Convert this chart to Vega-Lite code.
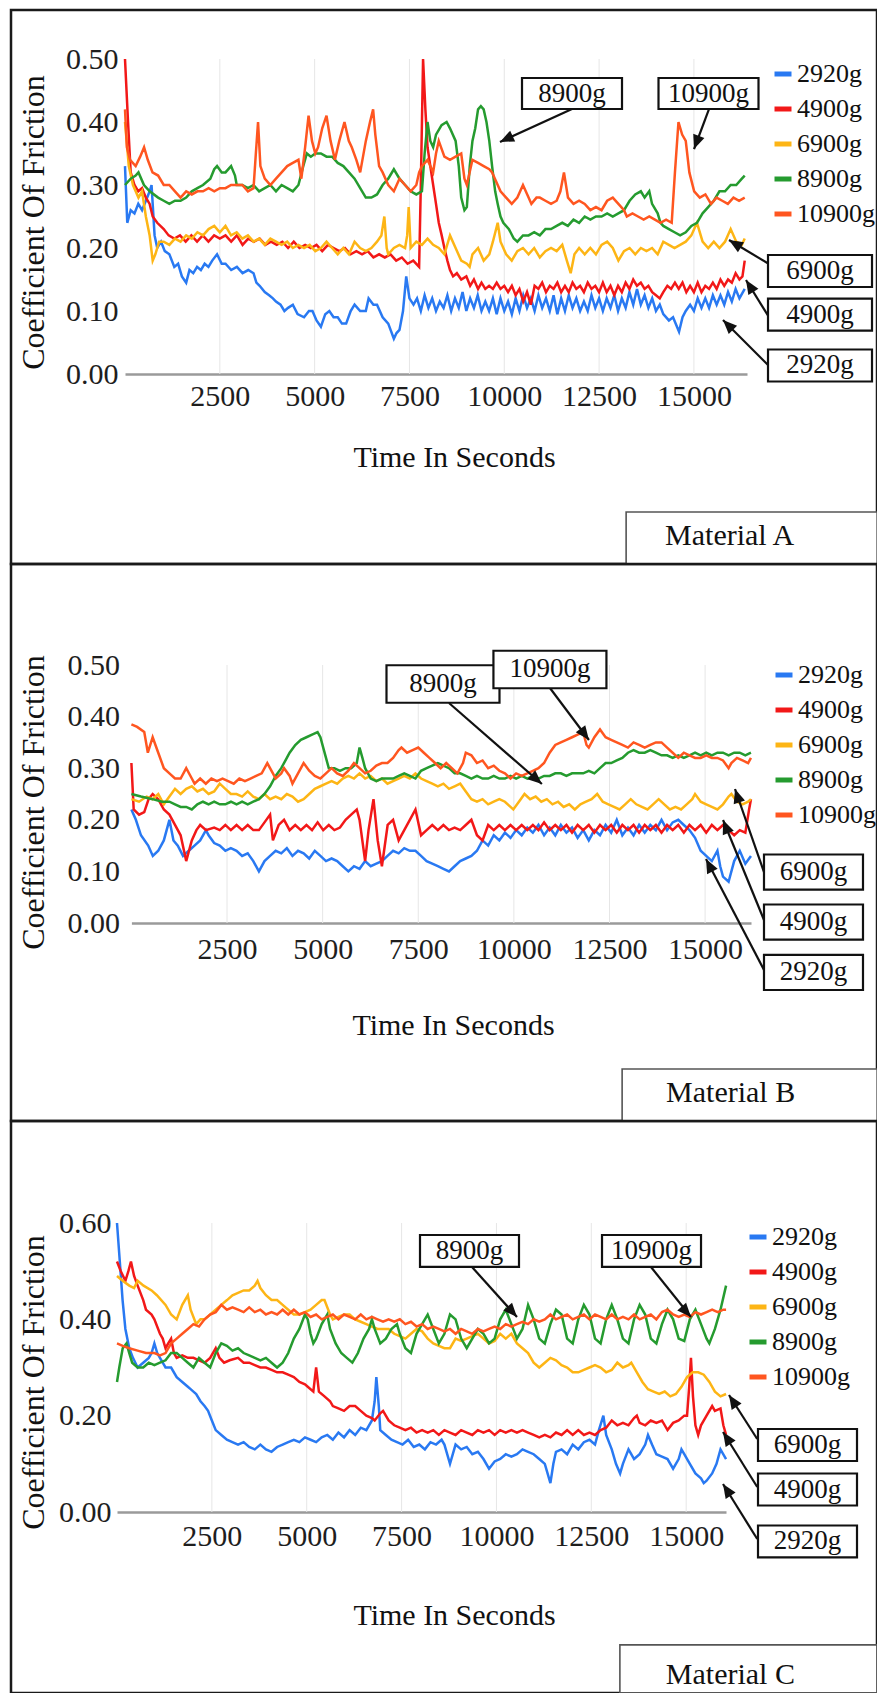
{
  "$schema": "https://vega.github.io/schema/vega-lite/v6.json",
  "padding": {"left": 9, "top": 8, "right": 0, "bottom": 0},
  "background": "white",
  "spacing": 0,
  "bounds": "flush",
  "resolve": {"scale": {"color": "independent"}, "legend": {"color": "independent"}},
  "config": {
    "font": "Liberation Serif",
    "view": {"stroke": "#1a1a1a", "strokeWidth": 2.5},
    "axis": {"labelFont": "Liberation Serif", "titleFont": "Liberation Serif", "labelFontSize": 30, "labelColor": "#1e1e1e", "titleColor": "#111", "titleFontWeight": "normal", "ticks": false, "domain": false, "gridColor": "#e6e6e6", "gridWidth": 1, "labelFlush": false, "labelOverlap": false, "titleBaseline": "middle"},
    "axisX": {"domain": true, "domainColor": "#9a9a9a", "domainWidth": 2.5, "titleFontSize": 30, "grid": false},
    "axisY": {"titleFontSize": 32},
    "legend": {"labelFont": "Liberation Serif", "labelFontSize": 26, "labelColor": "#111", "symbolType": "stroke", "symbolStrokeWidth": 5, "symbolSize": 289, "labelOffset": 1, "rowPadding": 9, "padding": 0}
  },
  "datasets": {
    "ticks": [{"t": 2500}, {"t": 5000}, {"t": 7500}, {"t": 10000}, {"t": 12500}, {"t": 15000}],
    "a": [
      {"g":"2920g","t":0,"v":0.33},{"g":"2920g","t":60,"v":0.24},{"g":"2920g","t":150,"v":0.26},{"g":"2920g","t":250,"v":0.255},{"g":"2920g","t":350,"v":0.27},{"g":"2920g","t":450,"v":0.26},{"g":"2920g","t":550,"v":0.275},{"g":"2920g","t":650,"v":0.29},{"g":"2920g","t":700,"v":0.3},{"g":"2920g","t":780,"v":0.22},{"g":"2920g","t":850,"v":0.2},{"g":"2920g","t":950,"v":0.21},{"g":"2920g","t":1050,"v":0.195},{"g":"2920g","t":1170,"v":0.19},{"g":"2920g","t":1300,"v":0.17},{"g":"2920g","t":1400,"v":0.175},{"g":"2920g","t":1500,"v":0.155},{"g":"2920g","t":1613,"v":0.145},{"g":"2920g","t":1700,"v":0.165},{"g":"2920g","t":1800,"v":0.16},{"g":"2920g","t":1900,"v":0.17},{"g":"2920g","t":2000,"v":0.165},{"g":"2920g","t":2100,"v":0.175},{"g":"2920g","t":2200,"v":0.17},{"g":"2920g","t":2300,"v":0.18},{"g":"2920g","t":2427,"v":0.19},{"g":"2920g","t":2550,"v":0.175},{"g":"2920g","t":2650,"v":0.175},{"g":"2920g","t":2800,"v":0.165},{"g":"2920g","t":2950,"v":0.17},{"g":"2920g","t":3100,"v":0.16},{"g":"2920g","t":3250,"v":0.165},{"g":"2920g","t":3389,"v":0.16},{"g":"2920g","t":3464,"v":0.145},{"g":"2920g","t":3550,"v":0.14},{"g":"2920g","t":3685,"v":0.13},{"g":"2920g","t":3800,"v":0.125},{"g":"2920g","t":3900,"v":0.12},{"g":"2920g","t":3981,"v":0.115},{"g":"2920g","t":4100,"v":0.11},{"g":"2920g","t":4203,"v":0.1},{"g":"2920g","t":4300,"v":0.105},{"g":"2920g","t":4425,"v":0.11},{"g":"2920g","t":4550,"v":0.095},{"g":"2920g","t":4721,"v":0.09},{"g":"2920g","t":4850,"v":0.1},{"g":"2920g","t":4943,"v":0.1},{"g":"2920g","t":5050,"v":0.085},{"g":"2920g","t":5165,"v":0.075},{"g":"2920g","t":5280,"v":0.095},{"g":"2920g","t":5387,"v":0.1},{"g":"2920g","t":5500,"v":0.09},{"g":"2920g","t":5609,"v":0.09},{"g":"2920g","t":5720,"v":0.08},{"g":"2920g","t":5831,"v":0.08},{"g":"2920g","t":5950,"v":0.1},{"g":"2920g","t":6053,"v":0.11},{"g":"2920g","t":6200,"v":0.1},{"g":"2920g","t":6349,"v":0.1},{"g":"2920g","t":6423,"v":0.12},{"g":"2920g","t":6550,"v":0.11},{"g":"2920g","t":6645,"v":0.11},{"g":"2920g","t":6793,"v":0.09},{"g":"2920g","t":6941,"v":0.08},{"g":"2920g","t":7089,"v":0.056},{"g":"2920g","t":7160,"v":0.065},{"g":"2920g","t":7237,"v":0.07},{"g":"2920g","t":7330,"v":0.1},{"g":"2920g","t":7415,"v":0.155},{"g":"2920g","t":7500,"v":0.12},{"g":"2920g","t":7607,"v":0.11},{"g":"2920g","t":7700,"v":0.12},{"g":"2920g","t":7800,"v":0.1},{"g":"2920g","t":7900,"v":0.125},{"g":"2920g","t":8000,"v":0.105},{"g":"2920g","t":8100,"v":0.12},{"g":"2920g","t":8200,"v":0.1},{"g":"2920g","t":8300,"v":0.115},{"g":"2920g","t":8400,"v":0.105},{"g":"2920g","t":8500,"v":0.125},{"g":"2920g","t":8600,"v":0.1},{"g":"2920g","t":8700,"v":0.12},{"g":"2920g","t":8800,"v":0.105},{"g":"2920g","t":8900,"v":0.13},{"g":"2920g","t":9000,"v":0.1},{"g":"2920g","t":9100,"v":0.12},{"g":"2920g","t":9200,"v":0.105},{"g":"2920g","t":9300,"v":0.125},{"g":"2920g","t":9400,"v":0.1},{"g":"2920g","t":9500,"v":0.115},{"g":"2920g","t":9600,"v":0.1},{"g":"2920g","t":9700,"v":0.12},{"g":"2920g","t":9800,"v":0.095},{"g":"2920g","t":9900,"v":0.12},{"g":"2920g","t":10000,"v":0.1},{"g":"2920g","t":10100,"v":0.115},{"g":"2920g","t":10200,"v":0.095},{"g":"2920g","t":10300,"v":0.12},{"g":"2920g","t":10400,"v":0.1},{"g":"2920g","t":10500,"v":0.125},{"g":"2920g","t":10600,"v":0.105},{"g":"2920g","t":10700,"v":0.12},{"g":"2920g","t":10800,"v":0.1},{"g":"2920g","t":10900,"v":0.125},{"g":"2920g","t":11000,"v":0.105},{"g":"2920g","t":11100,"v":0.12},{"g":"2920g","t":11200,"v":0.1},{"g":"2920g","t":11300,"v":0.125},{"g":"2920g","t":11400,"v":0.095},{"g":"2920g","t":11500,"v":0.12},{"g":"2920g","t":11600,"v":0.1},{"g":"2920g","t":11700,"v":0.125},{"g":"2920g","t":11800,"v":0.105},{"g":"2920g","t":11900,"v":0.12},{"g":"2920g","t":12000,"v":0.1},{"g":"2920g","t":12100,"v":0.115},{"g":"2920g","t":12200,"v":0.1},{"g":"2920g","t":12300,"v":0.125},{"g":"2920g","t":12400,"v":0.105},{"g":"2920g","t":12500,"v":0.12},{"g":"2920g","t":12600,"v":0.1},{"g":"2920g","t":12700,"v":0.12},{"g":"2920g","t":12800,"v":0.105},{"g":"2920g","t":12900,"v":0.125},{"g":"2920g","t":13000,"v":0.1},{"g":"2920g","t":13100,"v":0.12},{"g":"2920g","t":13200,"v":0.105},{"g":"2920g","t":13300,"v":0.13},{"g":"2920g","t":13400,"v":0.11},{"g":"2920g","t":13500,"v":0.135},{"g":"2920g","t":13600,"v":0.11},{"g":"2920g","t":13700,"v":0.125},{"g":"2920g","t":13800,"v":0.105},{"g":"2920g","t":13900,"v":0.12},{"g":"2920g","t":14000,"v":0.1},{"g":"2920g","t":14100,"v":0.11},{"g":"2920g","t":14193,"v":0.095},{"g":"2920g","t":14341,"v":0.085},{"g":"2920g","t":14450,"v":0.09},{"g":"2920g","t":14608,"v":0.067},{"g":"2920g","t":14700,"v":0.09},{"g":"2920g","t":14785,"v":0.1},{"g":"2920g","t":14900,"v":0.11},{"g":"2920g","t":15000,"v":0.1},{"g":"2920g","t":15100,"v":0.12},{"g":"2920g","t":15200,"v":0.105},{"g":"2920g","t":15300,"v":0.12},{"g":"2920g","t":15400,"v":0.105},{"g":"2920g","t":15500,"v":0.125},{"g":"2920g","t":15600,"v":0.11},{"g":"2920g","t":15700,"v":0.125},{"g":"2920g","t":15800,"v":0.11},{"g":"2920g","t":15900,"v":0.13},{"g":"2920g","t":16000,"v":0.115},{"g":"2920g","t":16100,"v":0.135},{"g":"2920g","t":16200,"v":0.12},{"g":"2920g","t":16340,"v":0.135},
      {"g":"4900g","t":0,"v":0.5},{"g":"4900g","t":80,"v":0.4},{"g":"4900g","t":150,"v":0.32},{"g":"4900g","t":250,"v":0.3},{"g":"4900g","t":350,"v":0.29},{"g":"4900g","t":450,"v":0.295},{"g":"4900g","t":550,"v":0.28},{"g":"4900g","t":650,"v":0.27},{"g":"4900g","t":730,"v":0.25},{"g":"4900g","t":850,"v":0.24},{"g":"4900g","t":1021,"v":0.23},{"g":"4900g","t":1150,"v":0.22},{"g":"4900g","t":1300,"v":0.215},{"g":"4900g","t":1450,"v":0.22},{"g":"4900g","t":1600,"v":0.21},{"g":"4900g","t":1750,"v":0.22},{"g":"4900g","t":1900,"v":0.21},{"g":"4900g","t":2050,"v":0.22},{"g":"4900g","t":2200,"v":0.21},{"g":"4900g","t":2350,"v":0.22},{"g":"4900g","t":2500,"v":0.215},{"g":"4900g","t":2650,"v":0.22},{"g":"4900g","t":2800,"v":0.21},{"g":"4900g","t":2950,"v":0.22},{"g":"4900g","t":3100,"v":0.205},{"g":"4900g","t":3250,"v":0.215},{"g":"4900g","t":3400,"v":0.21},{"g":"4900g","t":3550,"v":0.215},{"g":"4900g","t":3700,"v":0.205},{"g":"4900g","t":3850,"v":0.21},{"g":"4900g","t":4000,"v":0.205},{"g":"4900g","t":4150,"v":0.21},{"g":"4900g","t":4300,"v":0.2},{"g":"4900g","t":4450,"v":0.21},{"g":"4900g","t":4600,"v":0.2},{"g":"4900g","t":4750,"v":0.205},{"g":"4900g","t":4900,"v":0.2},{"g":"4900g","t":5050,"v":0.205},{"g":"4900g","t":5200,"v":0.195},{"g":"4900g","t":5350,"v":0.205},{"g":"4900g","t":5500,"v":0.2},{"g":"4900g","t":5650,"v":0.195},{"g":"4900g","t":5800,"v":0.2},{"g":"4900g","t":5950,"v":0.19},{"g":"4900g","t":6100,"v":0.195},{"g":"4900g","t":6250,"v":0.19},{"g":"4900g","t":6400,"v":0.195},{"g":"4900g","t":6550,"v":0.185},{"g":"4900g","t":6700,"v":0.19},{"g":"4900g","t":6850,"v":0.185},{"g":"4900g","t":7000,"v":0.19},{"g":"4900g","t":7150,"v":0.18},{"g":"4900g","t":7300,"v":0.185},{"g":"4900g","t":7450,"v":0.175},{"g":"4900g","t":7600,"v":0.18},{"g":"4900g","t":7755,"v":0.17},{"g":"4900g","t":7800,"v":0.3},{"g":"4900g","t":7859,"v":0.5},{"g":"4900g","t":7920,"v":0.42},{"g":"4900g","t":7977,"v":0.36},{"g":"4900g","t":8050,"v":0.33},{"g":"4900g","t":8125,"v":0.3},{"g":"4900g","t":8200,"v":0.27},{"g":"4900g","t":8273,"v":0.24},{"g":"4900g","t":8350,"v":0.22},{"g":"4900g","t":8421,"v":0.2},{"g":"4900g","t":8500,"v":0.18},{"g":"4900g","t":8569,"v":0.165},{"g":"4900g","t":8650,"v":0.155},{"g":"4900g","t":8750,"v":0.16},{"g":"4900g","t":8865,"v":0.15},{"g":"4900g","t":9000,"v":0.155},{"g":"4900g","t":9100,"v":0.14},{"g":"4900g","t":9200,"v":0.15},{"g":"4900g","t":9309,"v":0.135},{"g":"4900g","t":9400,"v":0.145},{"g":"4900g","t":9500,"v":0.135},{"g":"4900g","t":9600,"v":0.14},{"g":"4900g","t":9700,"v":0.135},{"g":"4900g","t":9800,"v":0.145},{"g":"4900g","t":9900,"v":0.135},{"g":"4900g","t":10000,"v":0.14},{"g":"4900g","t":10100,"v":0.13},{"g":"4900g","t":10200,"v":0.14},{"g":"4900g","t":10300,"v":0.125},{"g":"4900g","t":10400,"v":0.135},{"g":"4900g","t":10500,"v":0.115},{"g":"4900g","t":10600,"v":0.13},{"g":"4900g","t":10700,"v":0.11},{"g":"4900g","t":10800,"v":0.14},{"g":"4900g","t":10900,"v":0.135},{"g":"4900g","t":11000,"v":0.145},{"g":"4900g","t":11100,"v":0.13},{"g":"4900g","t":11200,"v":0.14},{"g":"4900g","t":11300,"v":0.135},{"g":"4900g","t":11400,"v":0.145},{"g":"4900g","t":11500,"v":0.13},{"g":"4900g","t":11600,"v":0.14},{"g":"4900g","t":11700,"v":0.13},{"g":"4900g","t":11800,"v":0.145},{"g":"4900g","t":11900,"v":0.135},{"g":"4900g","t":12000,"v":0.14},{"g":"4900g","t":12100,"v":0.13},{"g":"4900g","t":12200,"v":0.145},{"g":"4900g","t":12300,"v":0.135},{"g":"4900g","t":12400,"v":0.14},{"g":"4900g","t":12500,"v":0.13},{"g":"4900g","t":12600,"v":0.145},{"g":"4900g","t":12700,"v":0.13},{"g":"4900g","t":12800,"v":0.14},{"g":"4900g","t":12900,"v":0.125},{"g":"4900g","t":13000,"v":0.14},{"g":"4900g","t":13100,"v":0.13},{"g":"4900g","t":13200,"v":0.145},{"g":"4900g","t":13300,"v":0.135},{"g":"4900g","t":13400,"v":0.15},{"g":"4900g","t":13500,"v":0.14},{"g":"4900g","t":13600,"v":0.145},{"g":"4900g","t":13700,"v":0.135},{"g":"4900g","t":13800,"v":0.14},{"g":"4900g","t":13900,"v":0.13},{"g":"4900g","t":14000,"v":0.125},{"g":"4900g","t":14100,"v":0.12},{"g":"4900g","t":14193,"v":0.13},{"g":"4900g","t":14300,"v":0.14},{"g":"4900g","t":14400,"v":0.135},{"g":"4900g","t":14500,"v":0.145},{"g":"4900g","t":14600,"v":0.135},{"g":"4900g","t":14700,"v":0.145},{"g":"4900g","t":14800,"v":0.13},{"g":"4900g","t":14900,"v":0.14},{"g":"4900g","t":15000,"v":0.13},{"g":"4900g","t":15100,"v":0.145},{"g":"4900g","t":15200,"v":0.13},{"g":"4900g","t":15300,"v":0.14},{"g":"4900g","t":15400,"v":0.135},{"g":"4900g","t":15500,"v":0.145},{"g":"4900g","t":15600,"v":0.135},{"g":"4900g","t":15700,"v":0.15},{"g":"4900g","t":15800,"v":0.14},{"g":"4900g","t":15900,"v":0.15},{"g":"4900g","t":16000,"v":0.145},{"g":"4900g","t":16100,"v":0.16},{"g":"4900g","t":16200,"v":0.15},{"g":"4900g","t":16280,"v":0.155},{"g":"4900g","t":16340,"v":0.18},
      {"g":"6900g","t":0,"v":0.4},{"g":"6900g","t":100,"v":0.33},{"g":"6900g","t":210,"v":0.3},{"g":"6900g","t":355,"v":0.28},{"g":"6900g","t":450,"v":0.29},{"g":"6900g","t":550,"v":0.25},{"g":"6900g","t":650,"v":0.22},{"g":"6900g","t":730,"v":0.18},{"g":"6900g","t":800,"v":0.19},{"g":"6900g","t":900,"v":0.21},{"g":"6900g","t":1021,"v":0.21},{"g":"6900g","t":1169,"v":0.205},{"g":"6900g","t":1317,"v":0.215},{"g":"6900g","t":1465,"v":0.21},{"g":"6900g","t":1613,"v":0.22},{"g":"6900g","t":1761,"v":0.215},{"g":"6900g","t":1909,"v":0.225},{"g":"6900g","t":2057,"v":0.22},{"g":"6900g","t":2205,"v":0.23},{"g":"6900g","t":2353,"v":0.235},{"g":"6900g","t":2500,"v":0.225},{"g":"6900g","t":2649,"v":0.235},{"g":"6900g","t":2797,"v":0.22},{"g":"6900g","t":2945,"v":0.225},{"g":"6900g","t":3093,"v":0.215},{"g":"6900g","t":3241,"v":0.22},{"g":"6900g","t":3389,"v":0.21},{"g":"6900g","t":3537,"v":0.215},{"g":"6900g","t":3685,"v":0.205},{"g":"6900g","t":3833,"v":0.215},{"g":"6900g","t":3981,"v":0.21},{"g":"6900g","t":4129,"v":0.205},{"g":"6900g","t":4277,"v":0.21},{"g":"6900g","t":4425,"v":0.2},{"g":"6900g","t":4573,"v":0.205},{"g":"6900g","t":4721,"v":0.2},{"g":"6900g","t":4869,"v":0.205},{"g":"6900g","t":5017,"v":0.195},{"g":"6900g","t":5165,"v":0.2},{"g":"6900g","t":5313,"v":0.21},{"g":"6900g","t":5461,"v":0.2},{"g":"6900g","t":5609,"v":0.19},{"g":"6900g","t":5757,"v":0.2},{"g":"6900g","t":5905,"v":0.19},{"g":"6900g","t":6053,"v":0.21},{"g":"6900g","t":6201,"v":0.2},{"g":"6900g","t":6349,"v":0.195},{"g":"6900g","t":6497,"v":0.2},{"g":"6900g","t":6645,"v":0.21},{"g":"6900g","t":6760,"v":0.22},{"g":"6900g","t":6838,"v":0.25},{"g":"6900g","t":6900,"v":0.2},{"g":"6900g","t":6941,"v":0.19},{"g":"6900g","t":7089,"v":0.2},{"g":"6900g","t":7237,"v":0.205},{"g":"6900g","t":7385,"v":0.2},{"g":"6900g","t":7440,"v":0.22},{"g":"6900g","t":7480,"v":0.265},{"g":"6900g","t":7533,"v":0.2},{"g":"6900g","t":7681,"v":0.21},{"g":"6900g","t":7829,"v":0.205},{"g":"6900g","t":7977,"v":0.215},{"g":"6900g","t":8125,"v":0.205},{"g":"6900g","t":8273,"v":0.2},{"g":"6900g","t":8421,"v":0.19},{"g":"6900g","t":8569,"v":0.22},{"g":"6900g","t":8717,"v":0.2},{"g":"6900g","t":8865,"v":0.18},{"g":"6900g","t":9013,"v":0.175},{"g":"6900g","t":9087,"v":0.17},{"g":"6900g","t":9161,"v":0.19},{"g":"6900g","t":9309,"v":0.2},{"g":"6900g","t":9457,"v":0.18},{"g":"6900g","t":9605,"v":0.19},{"g":"6900g","t":9700,"v":0.21},{"g":"6900g","t":9827,"v":0.24},{"g":"6900g","t":9901,"v":0.21},{"g":"6900g","t":10049,"v":0.19},{"g":"6900g","t":10197,"v":0.18},{"g":"6900g","t":10345,"v":0.195},{"g":"6900g","t":10493,"v":0.2},{"g":"6900g","t":10641,"v":0.19},{"g":"6900g","t":10789,"v":0.2},{"g":"6900g","t":10937,"v":0.185},{"g":"6900g","t":11085,"v":0.195},{"g":"6900g","t":11233,"v":0.2},{"g":"6900g","t":11381,"v":0.195},{"g":"6900g","t":11529,"v":0.205},{"g":"6900g","t":11650,"v":0.18},{"g":"6900g","t":11751,"v":0.16},{"g":"6900g","t":11850,"v":0.19},{"g":"6900g","t":11973,"v":0.2},{"g":"6900g","t":12121,"v":0.19},{"g":"6900g","t":12269,"v":0.2},{"g":"6900g","t":12417,"v":0.19},{"g":"6900g","t":12565,"v":0.205},{"g":"6900g","t":12713,"v":0.21},{"g":"6900g","t":12861,"v":0.2},{"g":"6900g","t":13009,"v":0.18},{"g":"6900g","t":13157,"v":0.195},{"g":"6900g","t":13305,"v":0.2},{"g":"6900g","t":13453,"v":0.19},{"g":"6900g","t":13601,"v":0.2},{"g":"6900g","t":13749,"v":0.195},{"g":"6900g","t":13897,"v":0.2},{"g":"6900g","t":14045,"v":0.19},{"g":"6900g","t":14193,"v":0.21},{"g":"6900g","t":14341,"v":0.205},{"g":"6900g","t":14489,"v":0.2},{"g":"6900g","t":14637,"v":0.205},{"g":"6900g","t":14785,"v":0.21},{"g":"6900g","t":14933,"v":0.22},{"g":"6900g","t":15081,"v":0.24},{"g":"6900g","t":15229,"v":0.21},{"g":"6900g","t":15377,"v":0.2},{"g":"6900g","t":15525,"v":0.21},{"g":"6900g","t":15673,"v":0.2},{"g":"6900g","t":15821,"v":0.21},{"g":"6900g","t":15969,"v":0.23},{"g":"6900g","t":16117,"v":0.21},{"g":"6900g","t":16265,"v":0.205},{"g":"6900g","t":16340,"v":0.215},
      {"g":"8900g","t":0,"v":0.3},{"g":"8900g","t":150,"v":0.31},{"g":"8900g","t":281,"v":0.315},{"g":"8900g","t":355,"v":0.32},{"g":"8900g","t":500,"v":0.3},{"g":"8900g","t":651,"v":0.29},{"g":"8900g","t":873,"v":0.28},{"g":"8900g","t":1021,"v":0.275},{"g":"8900g","t":1169,"v":0.27},{"g":"8900g","t":1317,"v":0.275},{"g":"8900g","t":1465,"v":0.275},{"g":"8900g","t":1613,"v":0.28},{"g":"8900g","t":1761,"v":0.29},{"g":"8900g","t":1909,"v":0.295},{"g":"8900g","t":2057,"v":0.3},{"g":"8900g","t":2250,"v":0.31},{"g":"8900g","t":2353,"v":0.325},{"g":"8900g","t":2427,"v":0.33},{"g":"8900g","t":2550,"v":0.32},{"g":"8900g","t":2649,"v":0.32},{"g":"8900g","t":2797,"v":0.33},{"g":"8900g","t":2900,"v":0.315},{"g":"8900g","t":2945,"v":0.3},{"g":"8900g","t":3093,"v":0.3},{"g":"8900g","t":3241,"v":0.295},{"g":"8900g","t":3389,"v":0.3},{"g":"8900g","t":3537,"v":0.29},{"g":"8900g","t":3685,"v":0.295},{"g":"8900g","t":3833,"v":0.3},{"g":"8900g","t":3981,"v":0.29},{"g":"8900g","t":4129,"v":0.3},{"g":"8900g","t":4277,"v":0.295},{"g":"8900g","t":4425,"v":0.29},{"g":"8900g","t":4573,"v":0.3},{"g":"8900g","t":4700,"v":0.33},{"g":"8900g","t":4795,"v":0.35},{"g":"8900g","t":4900,"v":0.345},{"g":"8900g","t":5017,"v":0.35},{"g":"8900g","t":5165,"v":0.35},{"g":"8900g","t":5313,"v":0.345},{"g":"8900g","t":5461,"v":0.345},{"g":"8900g","t":5609,"v":0.335},{"g":"8900g","t":5757,"v":0.33},{"g":"8900g","t":5905,"v":0.32},{"g":"8900g","t":6053,"v":0.31},{"g":"8900g","t":6201,"v":0.295},{"g":"8900g","t":6349,"v":0.28},{"g":"8900g","t":6497,"v":0.28},{"g":"8900g","t":6645,"v":0.285},{"g":"8900g","t":6793,"v":0.3},{"g":"8900g","t":6941,"v":0.31},{"g":"8900g","t":7089,"v":0.325},{"g":"8900g","t":7237,"v":0.31},{"g":"8900g","t":7385,"v":0.3},{"g":"8900g","t":7533,"v":0.29},{"g":"8900g","t":7681,"v":0.285},{"g":"8900g","t":7829,"v":0.29},{"g":"8900g","t":7900,"v":0.35},{"g":"8900g","t":7977,"v":0.4},{"g":"8900g","t":8050,"v":0.37},{"g":"8900g","t":8125,"v":0.36},{"g":"8900g","t":8200,"v":0.38},{"g":"8900g","t":8347,"v":0.395},{"g":"8900g","t":8480,"v":0.4},{"g":"8900g","t":8569,"v":0.39},{"g":"8900g","t":8717,"v":0.37},{"g":"8900g","t":8800,"v":0.33},{"g":"8900g","t":8865,"v":0.28},{"g":"8900g","t":8950,"v":0.26},{"g":"8900g","t":9013,"v":0.265},{"g":"8900g","t":9090,"v":0.33},{"g":"8900g","t":9161,"v":0.37},{"g":"8900g","t":9235,"v":0.39},{"g":"8900g","t":9309,"v":0.42},{"g":"8900g","t":9383,"v":0.425},{"g":"8900g","t":9457,"v":0.42},{"g":"8900g","t":9531,"v":0.4},{"g":"8900g","t":9605,"v":0.37},{"g":"8900g","t":9679,"v":0.33},{"g":"8900g","t":9760,"v":0.29},{"g":"8900g","t":9827,"v":0.27},{"g":"8900g","t":9901,"v":0.25},{"g":"8900g","t":9975,"v":0.24},{"g":"8900g","t":10123,"v":0.23},{"g":"8900g","t":10250,"v":0.215},{"g":"8900g","t":10345,"v":0.21},{"g":"8900g","t":10493,"v":0.22},{"g":"8900g","t":10641,"v":0.22},{"g":"8900g","t":10789,"v":0.225},{"g":"8900g","t":10937,"v":0.22},{"g":"8900g","t":11085,"v":0.23},{"g":"8900g","t":11233,"v":0.23},{"g":"8900g","t":11381,"v":0.235},{"g":"8900g","t":11529,"v":0.24},{"g":"8900g","t":11677,"v":0.235},{"g":"8900g","t":11825,"v":0.245},{"g":"8900g","t":11973,"v":0.24},{"g":"8900g","t":12121,"v":0.25},{"g":"8900g","t":12269,"v":0.245},{"g":"8900g","t":12417,"v":0.25},{"g":"8900g","t":12565,"v":0.25},{"g":"8900g","t":12713,"v":0.255},{"g":"8900g","t":12861,"v":0.25},{"g":"8900g","t":13009,"v":0.255},{"g":"8900g","t":13157,"v":0.26},{"g":"8900g","t":13305,"v":0.275},{"g":"8900g","t":13453,"v":0.285},{"g":"8900g","t":13601,"v":0.29},{"g":"8900g","t":13700,"v":0.28},{"g":"8900g","t":13823,"v":0.29},{"g":"8900g","t":13897,"v":0.27},{"g":"8900g","t":14045,"v":0.255},{"g":"8900g","t":14119,"v":0.24},{"g":"8900g","t":14193,"v":0.235},{"g":"8900g","t":14341,"v":0.23},{"g":"8900g","t":14489,"v":0.225},{"g":"8900g","t":14637,"v":0.22},{"g":"8900g","t":14785,"v":0.225},{"g":"8900g","t":14933,"v":0.235},{"g":"8900g","t":15081,"v":0.24},{"g":"8900g","t":15229,"v":0.255},{"g":"8900g","t":15377,"v":0.265},{"g":"8900g","t":15525,"v":0.275},{"g":"8900g","t":15673,"v":0.29},{"g":"8900g","t":15821,"v":0.29},{"g":"8900g","t":15969,"v":0.3},{"g":"8900g","t":16117,"v":0.3},{"g":"8900g","t":16265,"v":0.31},{"g":"8900g","t":16340,"v":0.315},
      {"g":"10900g","t":0,"v":0.42},{"g":"10900g","t":50,"v":0.36},{"g":"10900g","t":133,"v":0.34},{"g":"10900g","t":281,"v":0.33},{"g":"10900g","t":400,"v":0.345},{"g":"10900g","t":503,"v":0.36},{"g":"10900g","t":600,"v":0.34},{"g":"10900g","t":725,"v":0.32},{"g":"10900g","t":873,"v":0.315},{"g":"10900g","t":1021,"v":0.3},{"g":"10900g","t":1169,"v":0.3},{"g":"10900g","t":1317,"v":0.29},{"g":"10900g","t":1465,"v":0.28},{"g":"10900g","t":1613,"v":0.29},{"g":"10900g","t":1761,"v":0.285},{"g":"10900g","t":1909,"v":0.29},{"g":"10900g","t":2057,"v":0.29},{"g":"10900g","t":2205,"v":0.295},{"g":"10900g","t":2353,"v":0.29},{"g":"10900g","t":2501,"v":0.295},{"g":"10900g","t":2649,"v":0.295},{"g":"10900g","t":2797,"v":0.3},{"g":"10900g","t":2945,"v":0.3},{"g":"10900g","t":3093,"v":0.3},{"g":"10900g","t":3241,"v":0.29},{"g":"10900g","t":3389,"v":0.295},{"g":"10900g","t":3450,"v":0.35},{"g":"10900g","t":3508,"v":0.4},{"g":"10900g","t":3570,"v":0.33},{"g":"10900g","t":3685,"v":0.31},{"g":"10900g","t":3833,"v":0.3},{"g":"10900g","t":3981,"v":0.31},{"g":"10900g","t":4129,"v":0.32},{"g":"10900g","t":4277,"v":0.33},{"g":"10900g","t":4425,"v":0.335},{"g":"10900g","t":4573,"v":0.34},{"g":"10900g","t":4650,"v":0.31},{"g":"10900g","t":4750,"v":0.36},{"g":"10900g","t":4840,"v":0.41},{"g":"10900g","t":4930,"v":0.37},{"g":"10900g","t":5017,"v":0.35},{"g":"10900g","t":5091,"v":0.36},{"g":"10900g","t":5200,"v":0.39},{"g":"10900g","t":5313,"v":0.41},{"g":"10900g","t":5420,"v":0.37},{"g":"10900g","t":5535,"v":0.34},{"g":"10900g","t":5650,"v":0.37},{"g":"10900g","t":5787,"v":0.4},{"g":"10900g","t":5900,"v":0.37},{"g":"10900g","t":5979,"v":0.36},{"g":"10900g","t":6100,"v":0.34},{"g":"10900g","t":6201,"v":0.32},{"g":"10900g","t":6350,"v":0.37},{"g":"10900g","t":6460,"v":0.4},{"g":"10900g","t":6542,"v":0.42},{"g":"10900g","t":6600,"v":0.38},{"g":"10900g","t":6700,"v":0.33},{"g":"10900g","t":6793,"v":0.32},{"g":"10900g","t":6941,"v":0.3},{"g":"10900g","t":7089,"v":0.29},{"g":"10900g","t":7237,"v":0.31},{"g":"10900g","t":7385,"v":0.3},{"g":"10900g","t":7533,"v":0.29},{"g":"10900g","t":7681,"v":0.3},{"g":"10900g","t":7755,"v":0.32},{"g":"10900g","t":7829,"v":0.33},{"g":"10900g","t":7977,"v":0.34},{"g":"10900g","t":8125,"v":0.32},{"g":"10900g","t":8200,"v":0.35},{"g":"10900g","t":8273,"v":0.37},{"g":"10900g","t":8421,"v":0.345},{"g":"10900g","t":8569,"v":0.34},{"g":"10900g","t":8717,"v":0.345},{"g":"10900g","t":8865,"v":0.35},{"g":"10900g","t":8950,"v":0.31},{"g":"10900g","t":9013,"v":0.3},{"g":"10900g","t":9161,"v":0.34},{"g":"10900g","t":9309,"v":0.335},{"g":"10900g","t":9457,"v":0.33},{"g":"10900g","t":9605,"v":0.325},{"g":"10900g","t":9679,"v":0.32},{"g":"10900g","t":9827,"v":0.3},{"g":"10900g","t":9901,"v":0.29},{"g":"10900g","t":10049,"v":0.28},{"g":"10900g","t":10197,"v":0.27},{"g":"10900g","t":10345,"v":0.28},{"g":"10900g","t":10493,"v":0.3},{"g":"10900g","t":10641,"v":0.28},{"g":"10900g","t":10715,"v":0.27},{"g":"10900g","t":10850,"v":0.28},{"g":"10900g","t":10937,"v":0.28},{"g":"10900g","t":11085,"v":0.275},{"g":"10900g","t":11233,"v":0.27},{"g":"10900g","t":11381,"v":0.275},{"g":"10900g","t":11480,"v":0.29},{"g":"10900g","t":11574,"v":0.32},{"g":"10900g","t":11680,"v":0.28},{"g":"10900g","t":11825,"v":0.27},{"g":"10900g","t":11973,"v":0.275},{"g":"10900g","t":12121,"v":0.27},{"g":"10900g","t":12269,"v":0.26},{"g":"10900g","t":12417,"v":0.265},{"g":"10900g","t":12565,"v":0.26},{"g":"10900g","t":12713,"v":0.275},{"g":"10900g","t":12861,"v":0.28},{"g":"10900g","t":13009,"v":0.27},{"g":"10900g","t":13157,"v":0.26},{"g":"10900g","t":13231,"v":0.25},{"g":"10900g","t":13380,"v":0.255},{"g":"10900g","t":13527,"v":0.25},{"g":"10900g","t":13675,"v":0.245},{"g":"10900g","t":13823,"v":0.25},{"g":"10900g","t":13971,"v":0.245},{"g":"10900g","t":14119,"v":0.24},{"g":"10900g","t":14267,"v":0.245},{"g":"10900g","t":14415,"v":0.24},{"g":"10900g","t":14500,"v":0.32},{"g":"10900g","t":14593,"v":0.4},{"g":"10900g","t":14690,"v":0.38},{"g":"10900g","t":14785,"v":0.37},{"g":"10900g","t":14880,"v":0.32},{"g":"10900g","t":15007,"v":0.29},{"g":"10900g","t":15155,"v":0.28},{"g":"10900g","t":15303,"v":0.285},{"g":"10900g","t":15451,"v":0.27},{"g":"10900g","t":15599,"v":0.28},{"g":"10900g","t":15747,"v":0.275},{"g":"10900g","t":15895,"v":0.27},{"g":"10900g","t":16043,"v":0.28},{"g":"10900g","t":16191,"v":0.275},{"g":"10900g","t":16340,"v":0.28}
    ],
    "b": [
      {"g":"2920g","t":0,"v":0.22},{"g":"2920g","t":117,"v":0.2},{"g":"2920g","t":250,"v":0.17},{"g":"2920g","t":439,"v":0.15},{"g":"2920g","t":560,"v":0.13},{"g":"2920g","t":702,"v":0.14},{"g":"2920g","t":848,"v":0.16},{"g":"2920g","t":994,"v":0.2},{"g":"2920g","t":1100,"v":0.16},{"g":"2920g","t":1213,"v":0.15},{"g":"2920g","t":1350,"v":0.13},{"g":"2920g","t":1500,"v":0.14},{"g":"2920g","t":1650,"v":0.15},{"g":"2920g","t":1798,"v":0.16},{"g":"2920g","t":1950,"v":0.18},{"g":"2920g","t":2018,"v":0.17},{"g":"2920g","t":2164,"v":0.155},{"g":"2920g","t":2310,"v":0.15},{"g":"2920g","t":2456,"v":0.14},{"g":"2920g","t":2600,"v":0.145},{"g":"2920g","t":2749,"v":0.14},{"g":"2920g","t":2895,"v":0.13},{"g":"2920g","t":3041,"v":0.135},{"g":"2920g","t":3187,"v":0.12},{"g":"2920g","t":3334,"v":0.1},{"g":"2920g","t":3480,"v":0.12},{"g":"2920g","t":3626,"v":0.13},{"g":"2920g","t":3772,"v":0.14},{"g":"2920g","t":3918,"v":0.135},{"g":"2920g","t":4064,"v":0.145},{"g":"2920g","t":4211,"v":0.13},{"g":"2920g","t":4357,"v":0.14},{"g":"2920g","t":4503,"v":0.135},{"g":"2920g","t":4649,"v":0.125},{"g":"2920g","t":4795,"v":0.14},{"g":"2920g","t":4942,"v":0.13},{"g":"2920g","t":5088,"v":0.12},{"g":"2920g","t":5234,"v":0.125},{"g":"2920g","t":5380,"v":0.12},{"g":"2920g","t":5526,"v":0.11},{"g":"2920g","t":5673,"v":0.1},{"g":"2920g","t":5819,"v":0.11},{"g":"2920g","t":5965,"v":0.105},{"g":"2920g","t":6111,"v":0.12},{"g":"2920g","t":6257,"v":0.11},{"g":"2920g","t":6404,"v":0.115},{"g":"2920g","t":6550,"v":0.12},{"g":"2920g","t":6696,"v":0.13},{"g":"2920g","t":6842,"v":0.14},{"g":"2920g","t":6988,"v":0.135},{"g":"2920g","t":7134,"v":0.145},{"g":"2920g","t":7280,"v":0.14},{"g":"2920g","t":7427,"v":0.14},{"g":"2920g","t":7573,"v":0.13},{"g":"2920g","t":7719,"v":0.12},{"g":"2920g","t":7866,"v":0.115},{"g":"2920g","t":8012,"v":0.11},{"g":"2920g","t":8158,"v":0.105},{"g":"2920g","t":8304,"v":0.1},{"g":"2920g","t":8450,"v":0.11},{"g":"2920g","t":8597,"v":0.12},{"g":"2920g","t":8743,"v":0.125},{"g":"2920g","t":8889,"v":0.13},{"g":"2920g","t":9035,"v":0.14},{"g":"2920g","t":9181,"v":0.16},{"g":"2920g","t":9328,"v":0.15},{"g":"2920g","t":9474,"v":0.17},{"g":"2920g","t":9620,"v":0.16},{"g":"2920g","t":9766,"v":0.175},{"g":"2920g","t":9912,"v":0.165},{"g":"2920g","t":10059,"v":0.18},{"g":"2920g","t":10205,"v":0.17},{"g":"2920g","t":10351,"v":0.185},{"g":"2920g","t":10497,"v":0.175},{"g":"2920g","t":10643,"v":0.19},{"g":"2920g","t":10790,"v":0.17},{"g":"2920g","t":10936,"v":0.185},{"g":"2920g","t":11082,"v":0.17},{"g":"2920g","t":11228,"v":0.19},{"g":"2920g","t":11374,"v":0.175},{"g":"2920g","t":11521,"v":0.185},{"g":"2920g","t":11667,"v":0.165},{"g":"2920g","t":11813,"v":0.18},{"g":"2920g","t":11959,"v":0.16},{"g":"2920g","t":12105,"v":0.18},{"g":"2920g","t":12252,"v":0.17},{"g":"2920g","t":12398,"v":0.19},{"g":"2920g","t":12544,"v":0.175},{"g":"2920g","t":12690,"v":0.2},{"g":"2920g","t":12836,"v":0.17},{"g":"2920g","t":12983,"v":0.185},{"g":"2920g","t":13129,"v":0.17},{"g":"2920g","t":13275,"v":0.19},{"g":"2920g","t":13421,"v":0.175},{"g":"2920g","t":13567,"v":0.19},{"g":"2920g","t":13713,"v":0.18},{"g":"2920g","t":13860,"v":0.2},{"g":"2920g","t":14006,"v":0.18},{"g":"2920g","t":14152,"v":0.195},{"g":"2920g","t":14298,"v":0.2},{"g":"2920g","t":14444,"v":0.19},{"g":"2920g","t":14591,"v":0.18},{"g":"2920g","t":14737,"v":0.165},{"g":"2920g","t":14884,"v":0.14},{"g":"2920g","t":15029,"v":0.13},{"g":"2920g","t":15176,"v":0.12},{"g":"2920g","t":15322,"v":0.14},{"g":"2920g","t":15395,"v":0.11},{"g":"2920g","t":15468,"v":0.09},{"g":"2920g","t":15614,"v":0.08},{"g":"2920g","t":15760,"v":0.12},{"g":"2920g","t":15906,"v":0.14},{"g":"2920g","t":16052,"v":0.115},{"g":"2920g","t":16199,"v":0.13},
      {"g":"4900g","t":0,"v":0.31},{"g":"4900g","t":60,"v":0.22},{"g":"4900g","t":200,"v":0.21},{"g":"4900g","t":336,"v":0.215},{"g":"4900g","t":450,"v":0.24},{"g":"4900g","t":556,"v":0.25},{"g":"4900g","t":702,"v":0.24},{"g":"4900g","t":775,"v":0.23},{"g":"4900g","t":848,"v":0.22},{"g":"4900g","t":994,"v":0.21},{"g":"4900g","t":1140,"v":0.19},{"g":"4900g","t":1287,"v":0.17},{"g":"4900g","t":1433,"v":0.12},{"g":"4900g","t":1579,"v":0.16},{"g":"4900g","t":1700,"v":0.18},{"g":"4900g","t":1798,"v":0.19},{"g":"4900g","t":1950,"v":0.18},{"g":"4900g","t":2164,"v":0.185},{"g":"4900g","t":2310,"v":0.18},{"g":"4900g","t":2456,"v":0.19},{"g":"4900g","t":2600,"v":0.18},{"g":"4900g","t":2749,"v":0.19},{"g":"4900g","t":2895,"v":0.18},{"g":"4900g","t":3041,"v":0.19},{"g":"4900g","t":3187,"v":0.18},{"g":"4900g","t":3334,"v":0.18},{"g":"4900g","t":3480,"v":0.195},{"g":"4900g","t":3626,"v":0.21},{"g":"4900g","t":3700,"v":0.16},{"g":"4900g","t":3850,"v":0.19},{"g":"4900g","t":3991,"v":0.2},{"g":"4900g","t":4137,"v":0.18},{"g":"4900g","t":4284,"v":0.19},{"g":"4900g","t":4430,"v":0.18},{"g":"4900g","t":4577,"v":0.19},{"g":"4900g","t":4723,"v":0.18},{"g":"4900g","t":4869,"v":0.195},{"g":"4900g","t":5015,"v":0.18},{"g":"4900g","t":5161,"v":0.19},{"g":"4900g","t":5307,"v":0.18},{"g":"4900g","t":5453,"v":0.185},{"g":"4900g","t":5600,"v":0.2},{"g":"4900g","t":5746,"v":0.21},{"g":"4900g","t":5892,"v":0.22},{"g":"4900g","t":5965,"v":0.2},{"g":"4900g","t":6111,"v":0.12},{"g":"4900g","t":6200,"v":0.18},{"g":"4900g","t":6330,"v":0.24},{"g":"4900g","t":6440,"v":0.16},{"g":"4900g","t":6550,"v":0.11},{"g":"4900g","t":6700,"v":0.19},{"g":"4900g","t":6842,"v":0.2},{"g":"4900g","t":6988,"v":0.16},{"g":"4900g","t":7134,"v":0.18},{"g":"4900g","t":7280,"v":0.2},{"g":"4900g","t":7427,"v":0.22},{"g":"4900g","t":7573,"v":0.17},{"g":"4900g","t":7719,"v":0.18},{"g":"4900g","t":7866,"v":0.19},{"g":"4900g","t":8012,"v":0.18},{"g":"4900g","t":8158,"v":0.19},{"g":"4900g","t":8304,"v":0.18},{"g":"4900g","t":8450,"v":0.185},{"g":"4900g","t":8597,"v":0.18},{"g":"4900g","t":8743,"v":0.19},{"g":"4900g","t":8889,"v":0.2},{"g":"4900g","t":9035,"v":0.17},{"g":"4900g","t":9181,"v":0.16},{"g":"4900g","t":9328,"v":0.19},{"g":"4900g","t":9474,"v":0.18},{"g":"4900g","t":9620,"v":0.19},{"g":"4900g","t":9766,"v":0.18},{"g":"4900g","t":9912,"v":0.19},{"g":"4900g","t":10059,"v":0.18},{"g":"4900g","t":10205,"v":0.19},{"g":"4900g","t":10351,"v":0.18},{"g":"4900g","t":10497,"v":0.19},{"g":"4900g","t":10643,"v":0.18},{"g":"4900g","t":10790,"v":0.195},{"g":"4900g","t":10936,"v":0.18},{"g":"4900g","t":11082,"v":0.19},{"g":"4900g","t":11228,"v":0.18},{"g":"4900g","t":11374,"v":0.19},{"g":"4900g","t":11521,"v":0.175},{"g":"4900g","t":11667,"v":0.19},{"g":"4900g","t":11813,"v":0.18},{"g":"4900g","t":11959,"v":0.19},{"g":"4900g","t":12105,"v":0.175},{"g":"4900g","t":12252,"v":0.19},{"g":"4900g","t":12398,"v":0.18},{"g":"4900g","t":12544,"v":0.19},{"g":"4900g","t":12690,"v":0.175},{"g":"4900g","t":12836,"v":0.19},{"g":"4900g","t":12983,"v":0.18},{"g":"4900g","t":13129,"v":0.19},{"g":"4900g","t":13275,"v":0.175},{"g":"4900g","t":13421,"v":0.19},{"g":"4900g","t":13567,"v":0.18},{"g":"4900g","t":13713,"v":0.19},{"g":"4900g","t":13860,"v":0.175},{"g":"4900g","t":14006,"v":0.19},{"g":"4900g","t":14152,"v":0.18},{"g":"4900g","t":14298,"v":0.19},{"g":"4900g","t":14444,"v":0.175},{"g":"4900g","t":14591,"v":0.19},{"g":"4900g","t":14737,"v":0.18},{"g":"4900g","t":14884,"v":0.19},{"g":"4900g","t":15029,"v":0.175},{"g":"4900g","t":15176,"v":0.19},{"g":"4900g","t":15322,"v":0.18},{"g":"4900g","t":15468,"v":0.19},{"g":"4900g","t":15614,"v":0.18},{"g":"4900g","t":15760,"v":0.17},{"g":"4900g","t":15906,"v":0.18},{"g":"4900g","t":16052,"v":0.175},{"g":"4900g","t":16150,"v":0.22},{"g":"4900g","t":16199,"v":0.24},
      {"g":"6900g","t":0,"v":0.24},{"g":"6900g","t":200,"v":0.235},{"g":"6900g","t":400,"v":0.245},{"g":"6900g","t":556,"v":0.24},{"g":"6900g","t":702,"v":0.25},{"g":"6900g","t":848,"v":0.23},{"g":"6900g","t":994,"v":0.245},{"g":"6900g","t":1140,"v":0.26},{"g":"6900g","t":1287,"v":0.25},{"g":"6900g","t":1433,"v":0.26},{"g":"6900g","t":1580,"v":0.265},{"g":"6900g","t":1725,"v":0.255},{"g":"6900g","t":1871,"v":0.26},{"g":"6900g","t":2018,"v":0.25},{"g":"6900g","t":2164,"v":0.255},{"g":"6900g","t":2310,"v":0.27},{"g":"6900g","t":2456,"v":0.26},{"g":"6900g","t":2600,"v":0.25},{"g":"6900g","t":2749,"v":0.25},{"g":"6900g","t":2895,"v":0.245},{"g":"6900g","t":3041,"v":0.255},{"g":"6900g","t":3187,"v":0.245},{"g":"6900g","t":3334,"v":0.24},{"g":"6900g","t":3480,"v":0.25},{"g":"6900g","t":3626,"v":0.24},{"g":"6900g","t":3772,"v":0.245},{"g":"6900g","t":3918,"v":0.24},{"g":"6900g","t":4064,"v":0.25},{"g":"6900g","t":4211,"v":0.245},{"g":"6900g","t":4357,"v":0.235},{"g":"6900g","t":4503,"v":0.24},{"g":"6900g","t":4649,"v":0.25},{"g":"6900g","t":4795,"v":0.26},{"g":"6900g","t":4942,"v":0.265},{"g":"6900g","t":5088,"v":0.27},{"g":"6900g","t":5234,"v":0.275},{"g":"6900g","t":5380,"v":0.27},{"g":"6900g","t":5526,"v":0.28},{"g":"6900g","t":5673,"v":0.285},{"g":"6900g","t":5819,"v":0.28},{"g":"6900g","t":5965,"v":0.29},{"g":"6900g","t":6111,"v":0.28},{"g":"6900g","t":6257,"v":0.285},{"g":"6900g","t":6404,"v":0.275},{"g":"6900g","t":6550,"v":0.28},{"g":"6900g","t":6696,"v":0.27},{"g":"6900g","t":6842,"v":0.275},{"g":"6900g","t":6988,"v":0.28},{"g":"6900g","t":7134,"v":0.285},{"g":"6900g","t":7280,"v":0.28},{"g":"6900g","t":7427,"v":0.29},{"g":"6900g","t":7573,"v":0.28},{"g":"6900g","t":7719,"v":0.275},{"g":"6900g","t":7866,"v":0.27},{"g":"6900g","t":8012,"v":0.265},{"g":"6900g","t":8158,"v":0.27},{"g":"6900g","t":8304,"v":0.26},{"g":"6900g","t":8450,"v":0.265},{"g":"6900g","t":8597,"v":0.27},{"g":"6900g","t":8743,"v":0.255},{"g":"6900g","t":8889,"v":0.24},{"g":"6900g","t":9035,"v":0.235},{"g":"6900g","t":9181,"v":0.24},{"g":"6900g","t":9328,"v":0.23},{"g":"6900g","t":9474,"v":0.235},{"g":"6900g","t":9620,"v":0.24},{"g":"6900g","t":9766,"v":0.235},{"g":"6900g","t":9912,"v":0.225},{"g":"6900g","t":9985,"v":0.22},{"g":"6900g","t":10132,"v":0.235},{"g":"6900g","t":10278,"v":0.25},{"g":"6900g","t":10424,"v":0.24},{"g":"6900g","t":10570,"v":0.245},{"g":"6900g","t":10716,"v":0.235},{"g":"6900g","t":10862,"v":0.24},{"g":"6900g","t":11009,"v":0.23},{"g":"6900g","t":11155,"v":0.235},{"g":"6900g","t":11301,"v":0.225},{"g":"6900g","t":11447,"v":0.23},{"g":"6900g","t":11593,"v":0.22},{"g":"6900g","t":11740,"v":0.23},{"g":"6900g","t":11886,"v":0.235},{"g":"6900g","t":12032,"v":0.24},{"g":"6900g","t":12178,"v":0.25},{"g":"6900g","t":12324,"v":0.235},{"g":"6900g","t":12471,"v":0.23},{"g":"6900g","t":12617,"v":0.225},{"g":"6900g","t":12763,"v":0.22},{"g":"6900g","t":12910,"v":0.23},{"g":"6900g","t":13056,"v":0.24},{"g":"6900g","t":13202,"v":0.23},{"g":"6900g","t":13348,"v":0.225},{"g":"6900g","t":13494,"v":0.22},{"g":"6900g","t":13640,"v":0.23},{"g":"6900g","t":13786,"v":0.24},{"g":"6900g","t":13933,"v":0.23},{"g":"6900g","t":14079,"v":0.22},{"g":"6900g","t":14225,"v":0.225},{"g":"6900g","t":14371,"v":0.22},{"g":"6900g","t":14518,"v":0.23},{"g":"6900g","t":14664,"v":0.24},{"g":"6900g","t":14737,"v":0.25},{"g":"6900g","t":14884,"v":0.235},{"g":"6900g","t":15029,"v":0.23},{"g":"6900g","t":15176,"v":0.225},{"g":"6900g","t":15322,"v":0.22},{"g":"6900g","t":15468,"v":0.23},{"g":"6900g","t":15614,"v":0.245},{"g":"6900g","t":15687,"v":0.25},{"g":"6900g","t":15833,"v":0.235},{"g":"6900g","t":15979,"v":0.23},{"g":"6900g","t":16125,"v":0.235},{"g":"6900g","t":16199,"v":0.24},
      {"g":"8900g","t":0,"v":0.25},{"g":"8900g","t":250,"v":0.245},{"g":"8900g","t":556,"v":0.24},{"g":"8900g","t":800,"v":0.235},{"g":"8900g","t":994,"v":0.235},{"g":"8900g","t":1140,"v":0.23},{"g":"8900g","t":1287,"v":0.225},{"g":"8900g","t":1433,"v":0.225},{"g":"8900g","t":1579,"v":0.22},{"g":"8900g","t":1725,"v":0.23},{"g":"8900g","t":1871,"v":0.235},{"g":"8900g","t":2018,"v":0.23},{"g":"8900g","t":2164,"v":0.235},{"g":"8900g","t":2310,"v":0.23},{"g":"8900g","t":2456,"v":0.23},{"g":"8900g","t":2603,"v":0.235},{"g":"8900g","t":2749,"v":0.23},{"g":"8900g","t":2895,"v":0.235},{"g":"8900g","t":3041,"v":0.23},{"g":"8900g","t":3187,"v":0.235},{"g":"8900g","t":3334,"v":0.24},{"g":"8900g","t":3480,"v":0.25},{"g":"8900g","t":3626,"v":0.265},{"g":"8900g","t":3772,"v":0.285},{"g":"8900g","t":3918,"v":0.3},{"g":"8900g","t":4064,"v":0.32},{"g":"8900g","t":4137,"v":0.33},{"g":"8900g","t":4284,"v":0.345},{"g":"8900g","t":4430,"v":0.355},{"g":"8900g","t":4577,"v":0.36},{"g":"8900g","t":4723,"v":0.365},{"g":"8900g","t":4868,"v":0.37},{"g":"8900g","t":4942,"v":0.36},{"g":"8900g","t":5015,"v":0.34},{"g":"8900g","t":5088,"v":0.32},{"g":"8900g","t":5161,"v":0.3},{"g":"8900g","t":5307,"v":0.3},{"g":"8900g","t":5453,"v":0.295},{"g":"8900g","t":5600,"v":0.3},{"g":"8900g","t":5746,"v":0.3},{"g":"8900g","t":5892,"v":0.31},{"g":"8900g","t":5965,"v":0.34},{"g":"8900g","t":6040,"v":0.32},{"g":"8900g","t":6111,"v":0.3},{"g":"8900g","t":6257,"v":0.28},{"g":"8900g","t":6404,"v":0.275},{"g":"8900g","t":6550,"v":0.28},{"g":"8900g","t":6696,"v":0.28},{"g":"8900g","t":6842,"v":0.28},{"g":"8900g","t":6988,"v":0.285},{"g":"8900g","t":7134,"v":0.29},{"g":"8900g","t":7280,"v":0.285},{"g":"8900g","t":7427,"v":0.28},{"g":"8900g","t":7573,"v":0.295},{"g":"8900g","t":7719,"v":0.3},{"g":"8900g","t":7866,"v":0.305},{"g":"8900g","t":8012,"v":0.31},{"g":"8900g","t":8158,"v":0.305},{"g":"8900g","t":8304,"v":0.3},{"g":"8900g","t":8450,"v":0.29},{"g":"8900g","t":8597,"v":0.29},{"g":"8900g","t":8743,"v":0.285},{"g":"8900g","t":8889,"v":0.28},{"g":"8900g","t":9035,"v":0.285},{"g":"8900g","t":9181,"v":0.28},{"g":"8900g","t":9328,"v":0.28},{"g":"8900g","t":9474,"v":0.285},{"g":"8900g","t":9620,"v":0.28},{"g":"8900g","t":9766,"v":0.28},{"g":"8900g","t":9912,"v":0.285},{"g":"8900g","t":10059,"v":0.28},{"g":"8900g","t":10205,"v":0.285},{"g":"8900g","t":10351,"v":0.28},{"g":"8900g","t":10497,"v":0.285},{"g":"8900g","t":10643,"v":0.28},{"g":"8900g","t":10790,"v":0.285},{"g":"8900g","t":10936,"v":0.285},{"g":"8900g","t":11082,"v":0.29},{"g":"8900g","t":11228,"v":0.29},{"g":"8900g","t":11374,"v":0.285},{"g":"8900g","t":11521,"v":0.29},{"g":"8900g","t":11667,"v":0.29},{"g":"8900g","t":11813,"v":0.29},{"g":"8900g","t":11959,"v":0.295},{"g":"8900g","t":12105,"v":0.29},{"g":"8900g","t":12252,"v":0.3},{"g":"8900g","t":12398,"v":0.31},{"g":"8900g","t":12544,"v":0.31},{"g":"8900g","t":12690,"v":0.315},{"g":"8900g","t":12836,"v":0.32},{"g":"8900g","t":12983,"v":0.33},{"g":"8900g","t":13129,"v":0.335},{"g":"8900g","t":13275,"v":0.33},{"g":"8900g","t":13421,"v":0.33},{"g":"8900g","t":13567,"v":0.335},{"g":"8900g","t":13713,"v":0.33},{"g":"8900g","t":13860,"v":0.325},{"g":"8900g","t":14006,"v":0.325},{"g":"8900g","t":14152,"v":0.32},{"g":"8900g","t":14298,"v":0.325},{"g":"8900g","t":14444,"v":0.32},{"g":"8900g","t":14591,"v":0.325},{"g":"8900g","t":14737,"v":0.33},{"g":"8900g","t":14884,"v":0.325},{"g":"8900g","t":15029,"v":0.33},{"g":"8900g","t":15176,"v":0.325},{"g":"8900g","t":15322,"v":0.33},{"g":"8900g","t":15468,"v":0.33},{"g":"8900g","t":15614,"v":0.325},{"g":"8900g","t":15760,"v":0.33},{"g":"8900g","t":15906,"v":0.33},{"g":"8900g","t":16052,"v":0.325},{"g":"8900g","t":16199,"v":0.33},
      {"g":"10900g","t":0,"v":0.385},{"g":"10900g","t":150,"v":0.38},{"g":"10900g","t":336,"v":0.37},{"g":"10900g","t":430,"v":0.33},{"g":"10900g","t":556,"v":0.36},{"g":"10900g","t":702,"v":0.33},{"g":"10900g","t":848,"v":0.3},{"g":"10900g","t":994,"v":0.29},{"g":"10900g","t":1140,"v":0.28},{"g":"10900g","t":1287,"v":0.28},{"g":"10900g","t":1433,"v":0.3},{"g":"10900g","t":1580,"v":0.28},{"g":"10900g","t":1652,"v":0.27},{"g":"10900g","t":1798,"v":0.28},{"g":"10900g","t":1945,"v":0.27},{"g":"10900g","t":2091,"v":0.28},{"g":"10900g","t":2237,"v":0.275},{"g":"10900g","t":2383,"v":0.28},{"g":"10900g","t":2529,"v":0.275},{"g":"10900g","t":2676,"v":0.27},{"g":"10900g","t":2822,"v":0.28},{"g":"10900g","t":2968,"v":0.275},{"g":"10900g","t":3114,"v":0.28},{"g":"10900g","t":3261,"v":0.285},{"g":"10900g","t":3407,"v":0.29},{"g":"10900g","t":3553,"v":0.31},{"g":"10900g","t":3700,"v":0.29},{"g":"10900g","t":3772,"v":0.28},{"g":"10900g","t":3918,"v":0.29},{"g":"10900g","t":3991,"v":0.3},{"g":"10900g","t":4137,"v":0.285},{"g":"10900g","t":4211,"v":0.27},{"g":"10900g","t":4357,"v":0.29},{"g":"10900g","t":4503,"v":0.31},{"g":"10900g","t":4649,"v":0.295},{"g":"10900g","t":4795,"v":0.285},{"g":"10900g","t":4942,"v":0.28},{"g":"10900g","t":5088,"v":0.29},{"g":"10900g","t":5234,"v":0.3},{"g":"10900g","t":5380,"v":0.29},{"g":"10900g","t":5526,"v":0.285},{"g":"10900g","t":5673,"v":0.295},{"g":"10900g","t":5819,"v":0.31},{"g":"10900g","t":5965,"v":0.3},{"g":"10900g","t":6111,"v":0.29},{"g":"10900g","t":6257,"v":0.295},{"g":"10900g","t":6404,"v":0.305},{"g":"10900g","t":6550,"v":0.31},{"g":"10900g","t":6696,"v":0.31},{"g":"10900g","t":6842,"v":0.32},{"g":"10900g","t":6988,"v":0.335},{"g":"10900g","t":7061,"v":0.34},{"g":"10900g","t":7207,"v":0.33},{"g":"10900g","t":7353,"v":0.335},{"g":"10900g","t":7500,"v":0.34},{"g":"10900g","t":7646,"v":0.33},{"g":"10900g","t":7792,"v":0.32},{"g":"10900g","t":7939,"v":0.31},{"g":"10900g","t":8085,"v":0.3},{"g":"10900g","t":8231,"v":0.31},{"g":"10900g","t":8378,"v":0.3},{"g":"10900g","t":8524,"v":0.29},{"g":"10900g","t":8670,"v":0.31},{"g":"10900g","t":8743,"v":0.33},{"g":"10900g","t":8889,"v":0.325},{"g":"10900g","t":9035,"v":0.31},{"g":"10900g","t":9181,"v":0.315},{"g":"10900g","t":9328,"v":0.3},{"g":"10900g","t":9474,"v":0.305},{"g":"10900g","t":9620,"v":0.295},{"g":"10900g","t":9766,"v":0.29},{"g":"10900g","t":9912,"v":0.28},{"g":"10900g","t":10059,"v":0.29},{"g":"10900g","t":10205,"v":0.285},{"g":"10900g","t":10351,"v":0.29},{"g":"10900g","t":10497,"v":0.295},{"g":"10900g","t":10643,"v":0.3},{"g":"10900g","t":10790,"v":0.31},{"g":"10900g","t":10936,"v":0.33},{"g":"10900g","t":11082,"v":0.345},{"g":"10900g","t":11228,"v":0.35},{"g":"10900g","t":11374,"v":0.355},{"g":"10900g","t":11521,"v":0.36},{"g":"10900g","t":11667,"v":0.365},{"g":"10900g","t":11813,"v":0.37},{"g":"10900g","t":11900,"v":0.345},{"g":"10900g","t":11959,"v":0.34},{"g":"10900g","t":12105,"v":0.36},{"g":"10900g","t":12252,"v":0.375},{"g":"10900g","t":12398,"v":0.36},{"g":"10900g","t":12544,"v":0.355},{"g":"10900g","t":12690,"v":0.35},{"g":"10900g","t":12836,"v":0.345},{"g":"10900g","t":12983,"v":0.34},{"g":"10900g","t":13129,"v":0.35},{"g":"10900g","t":13275,"v":0.345},{"g":"10900g","t":13421,"v":0.34},{"g":"10900g","t":13567,"v":0.345},{"g":"10900g","t":13713,"v":0.35},{"g":"10900g","t":13860,"v":0.35},{"g":"10900g","t":14006,"v":0.34},{"g":"10900g","t":14152,"v":0.33},{"g":"10900g","t":14298,"v":0.32},{"g":"10900g","t":14444,"v":0.33},{"g":"10900g","t":14591,"v":0.325},{"g":"10900g","t":14737,"v":0.32},{"g":"10900g","t":14884,"v":0.32},{"g":"10900g","t":15029,"v":0.325},{"g":"10900g","t":15176,"v":0.32},{"g":"10900g","t":15322,"v":0.32},{"g":"10900g","t":15468,"v":0.315},{"g":"10900g","t":15614,"v":0.3},{"g":"10900g","t":15687,"v":0.31},{"g":"10900g","t":15833,"v":0.32},{"g":"10900g","t":15979,"v":0.315},{"g":"10900g","t":16125,"v":0.31},{"g":"10900g","t":16199,"v":0.32}
    ],
    "c": [
      {"g":"2920g","t":0,"v":0.6},{"g":"2920g","t":74,"v":0.52},{"g":"2920g","t":147,"v":0.44},{"g":"2920g","t":221,"v":0.38},{"g":"2920g","t":323,"v":0.34},{"g":"2920g","t":420,"v":0.32},{"g":"2920g","t":544,"v":0.3},{"g":"2920g","t":691,"v":0.31},{"g":"2920g","t":838,"v":0.32},{"g":"2920g","t":911,"v":0.33},{"g":"2920g","t":985,"v":0.35},{"g":"2920g","t":1060,"v":0.33},{"g":"2920g","t":1132,"v":0.32},{"g":"2920g","t":1205,"v":0.31},{"g":"2920g","t":1279,"v":0.3},{"g":"2920g","t":1426,"v":0.3},{"g":"2920g","t":1573,"v":0.28},{"g":"2920g","t":1720,"v":0.27},{"g":"2920g","t":1867,"v":0.26},{"g":"2920g","t":1940,"v":0.255},{"g":"2920g","t":2014,"v":0.25},{"g":"2920g","t":2087,"v":0.245},{"g":"2920g","t":2200,"v":0.23},{"g":"2920g","t":2308,"v":0.22},{"g":"2920g","t":2400,"v":0.21},{"g":"2920g","t":2500,"v":0.19},{"g":"2920g","t":2602,"v":0.17},{"g":"2920g","t":2750,"v":0.16},{"g":"2920g","t":2896,"v":0.15},{"g":"2920g","t":3040,"v":0.145},{"g":"2920g","t":3190,"v":0.14},{"g":"2920g","t":3337,"v":0.145},{"g":"2920g","t":3484,"v":0.135},{"g":"2920g","t":3631,"v":0.13},{"g":"2920g","t":3778,"v":0.14},{"g":"2920g","t":3925,"v":0.13},{"g":"2920g","t":4072,"v":0.125},{"g":"2920g","t":4219,"v":0.135},{"g":"2920g","t":4366,"v":0.14},{"g":"2920g","t":4513,"v":0.145},{"g":"2920g","t":4660,"v":0.15},{"g":"2920g","t":4807,"v":0.145},{"g":"2920g","t":4954,"v":0.155},{"g":"2920g","t":5101,"v":0.15},{"g":"2920g","t":5248,"v":0.145},{"g":"2920g","t":5395,"v":0.155},{"g":"2920g","t":5542,"v":0.16},{"g":"2920g","t":5689,"v":0.15},{"g":"2920g","t":5836,"v":0.165},{"g":"2920g","t":5983,"v":0.155},{"g":"2920g","t":6130,"v":0.17},{"g":"2920g","t":6277,"v":0.16},{"g":"2920g","t":6424,"v":0.175},{"g":"2920g","t":6571,"v":0.17},{"g":"2920g","t":6718,"v":0.19},{"g":"2920g","t":6791,"v":0.23},{"g":"2920g","t":6835,"v":0.28},{"g":"2920g","t":6900,"v":0.22},{"g":"2920g","t":6938,"v":0.17},{"g":"2920g","t":7085,"v":0.16},{"g":"2920g","t":7232,"v":0.15},{"g":"2920g","t":7379,"v":0.145},{"g":"2920g","t":7526,"v":0.14},{"g":"2920g","t":7673,"v":0.15},{"g":"2920g","t":7820,"v":0.135},{"g":"2920g","t":7967,"v":0.14},{"g":"2920g","t":8114,"v":0.13},{"g":"2920g","t":8261,"v":0.145},{"g":"2920g","t":8408,"v":0.14},{"g":"2920g","t":8555,"v":0.15},{"g":"2920g","t":8629,"v":0.14},{"g":"2920g","t":8776,"v":0.1},{"g":"2920g","t":8850,"v":0.12},{"g":"2920g","t":8923,"v":0.14},{"g":"2920g","t":9070,"v":0.13},{"g":"2920g","t":9217,"v":0.135},{"g":"2920g","t":9364,"v":0.12},{"g":"2920g","t":9511,"v":0.125},{"g":"2920g","t":9658,"v":0.11},{"g":"2920g","t":9805,"v":0.09},{"g":"2920g","t":9952,"v":0.105},{"g":"2920g","t":10099,"v":0.11},{"g":"2920g","t":10246,"v":0.12},{"g":"2920g","t":10393,"v":0.115},{"g":"2920g","t":10540,"v":0.12},{"g":"2920g","t":10687,"v":0.13},{"g":"2920g","t":10834,"v":0.125},{"g":"2920g","t":10981,"v":0.12},{"g":"2920g","t":11128,"v":0.11},{"g":"2920g","t":11275,"v":0.1},{"g":"2920g","t":11422,"v":0.06},{"g":"2920g","t":11500,"v":0.1},{"g":"2920g","t":11569,"v":0.125},{"g":"2920g","t":11716,"v":0.13},{"g":"2920g","t":11863,"v":0.12},{"g":"2920g","t":12010,"v":0.14},{"g":"2920g","t":12157,"v":0.13},{"g":"2920g","t":12304,"v":0.145},{"g":"2920g","t":12451,"v":0.15},{"g":"2920g","t":12598,"v":0.14},{"g":"2920g","t":12700,"v":0.17},{"g":"2920g","t":12818,"v":0.2},{"g":"2920g","t":12892,"v":0.16},{"g":"2920g","t":13039,"v":0.13},{"g":"2920g","t":13150,"v":0.1},{"g":"2920g","t":13259,"v":0.08},{"g":"2920g","t":13333,"v":0.1},{"g":"2920g","t":13480,"v":0.13},{"g":"2920g","t":13553,"v":0.12},{"g":"2920g","t":13627,"v":0.11},{"g":"2920g","t":13774,"v":0.12},{"g":"2920g","t":13921,"v":0.14},{"g":"2920g","t":13994,"v":0.16},{"g":"2920g","t":14100,"v":0.14},{"g":"2920g","t":14215,"v":0.12},{"g":"2920g","t":14362,"v":0.115},{"g":"2920g","t":14509,"v":0.11},{"g":"2920g","t":14656,"v":0.09},{"g":"2920g","t":14803,"v":0.11},{"g":"2920g","t":14876,"v":0.13},{"g":"2920g","t":14950,"v":0.12},{"g":"2920g","t":15097,"v":0.1},{"g":"2920g","t":15244,"v":0.08},{"g":"2920g","t":15391,"v":0.07},{"g":"2920g","t":15464,"v":0.06},{"g":"2920g","t":15538,"v":0.065},{"g":"2920g","t":15685,"v":0.08},{"g":"2920g","t":15800,"v":0.1},{"g":"2920g","t":15905,"v":0.13},{"g":"2920g","t":16052,"v":0.11},
      {"g":"4900g","t":0,"v":0.52},{"g":"4900g","t":100,"v":0.5},{"g":"4900g","t":221,"v":0.48},{"g":"4900g","t":300,"v":0.5},{"g":"4900g","t":368,"v":0.52},{"g":"4900g","t":450,"v":0.49},{"g":"4900g","t":544,"v":0.47},{"g":"4900g","t":691,"v":0.44},{"g":"4900g","t":764,"v":0.42},{"g":"4900g","t":911,"v":0.41},{"g":"4900g","t":985,"v":0.4},{"g":"4900g","t":1132,"v":0.37},{"g":"4900g","t":1205,"v":0.36},{"g":"4900g","t":1279,"v":0.34},{"g":"4900g","t":1350,"v":0.35},{"g":"4900g","t":1426,"v":0.36},{"g":"4900g","t":1500,"v":0.33},{"g":"4900g","t":1573,"v":0.32},{"g":"4900g","t":1720,"v":0.325},{"g":"4900g","t":1867,"v":0.32},{"g":"4900g","t":2014,"v":0.32},{"g":"4900g","t":2161,"v":0.315},{"g":"4900g","t":2308,"v":0.31},{"g":"4900g","t":2455,"v":0.32},{"g":"4900g","t":2602,"v":0.34},{"g":"4900g","t":2700,"v":0.32},{"g":"4900g","t":2822,"v":0.31},{"g":"4900g","t":2969,"v":0.315},{"g":"4900g","t":3190,"v":0.32},{"g":"4900g","t":3337,"v":0.31},{"g":"4900g","t":3484,"v":0.31},{"g":"4900g","t":3631,"v":0.305},{"g":"4900g","t":3778,"v":0.3},{"g":"4900g","t":3925,"v":0.3},{"g":"4900g","t":4072,"v":0.295},{"g":"4900g","t":4219,"v":0.29},{"g":"4900g","t":4366,"v":0.29},{"g":"4900g","t":4513,"v":0.285},{"g":"4900g","t":4660,"v":0.28},{"g":"4900g","t":4807,"v":0.27},{"g":"4900g","t":4954,"v":0.265},{"g":"4900g","t":5027,"v":0.26},{"g":"4900g","t":5174,"v":0.25},{"g":"4900g","t":5248,"v":0.3},{"g":"4900g","t":5321,"v":0.25},{"g":"4900g","t":5468,"v":0.24},{"g":"4900g","t":5615,"v":0.23},{"g":"4900g","t":5689,"v":0.22},{"g":"4900g","t":5836,"v":0.215},{"g":"4900g","t":5983,"v":0.21},{"g":"4900g","t":6130,"v":0.22},{"g":"4900g","t":6277,"v":0.22},{"g":"4900g","t":6424,"v":0.21},{"g":"4900g","t":6571,"v":0.2},{"g":"4900g","t":6718,"v":0.195},{"g":"4900g","t":6791,"v":0.19},{"g":"4900g","t":6938,"v":0.205},{"g":"4900g","t":7012,"v":0.21},{"g":"4900g","t":7159,"v":0.19},{"g":"4900g","t":7306,"v":0.18},{"g":"4900g","t":7453,"v":0.175},{"g":"4900g","t":7600,"v":0.17},{"g":"4900g","t":7747,"v":0.175},{"g":"4900g","t":7894,"v":0.165},{"g":"4900g","t":8041,"v":0.17},{"g":"4900g","t":8188,"v":0.165},{"g":"4900g","t":8335,"v":0.17},{"g":"4900g","t":8482,"v":0.16},{"g":"4900g","t":8629,"v":0.17},{"g":"4900g","t":8776,"v":0.165},{"g":"4900g","t":8923,"v":0.16},{"g":"4900g","t":9070,"v":0.17},{"g":"4900g","t":9217,"v":0.165},{"g":"4900g","t":9364,"v":0.16},{"g":"4900g","t":9511,"v":0.17},{"g":"4900g","t":9658,"v":0.165},{"g":"4900g","t":9805,"v":0.17},{"g":"4900g","t":9952,"v":0.16},{"g":"4900g","t":10099,"v":0.17},{"g":"4900g","t":10246,"v":0.165},{"g":"4900g","t":10393,"v":0.17},{"g":"4900g","t":10540,"v":0.165},{"g":"4900g","t":10687,"v":0.17},{"g":"4900g","t":10834,"v":0.165},{"g":"4900g","t":10981,"v":0.16},{"g":"4900g","t":11128,"v":0.155},{"g":"4900g","t":11275,"v":0.16},{"g":"4900g","t":11422,"v":0.155},{"g":"4900g","t":11569,"v":0.165},{"g":"4900g","t":11716,"v":0.16},{"g":"4900g","t":11863,"v":0.17},{"g":"4900g","t":12010,"v":0.16},{"g":"4900g","t":12157,"v":0.17},{"g":"4900g","t":12304,"v":0.16},{"g":"4900g","t":12451,"v":0.165},{"g":"4900g","t":12598,"v":0.16},{"g":"4900g","t":12745,"v":0.17},{"g":"4900g","t":12892,"v":0.175},{"g":"4900g","t":13039,"v":0.19},{"g":"4900g","t":13186,"v":0.18},{"g":"4900g","t":13333,"v":0.185},{"g":"4900g","t":13480,"v":0.18},{"g":"4900g","t":13627,"v":0.195},{"g":"4900g","t":13700,"v":0.2},{"g":"4900g","t":13774,"v":0.185},{"g":"4900g","t":13921,"v":0.18},{"g":"4900g","t":14068,"v":0.19},{"g":"4900g","t":14215,"v":0.185},{"g":"4900g","t":14362,"v":0.19},{"g":"4900g","t":14509,"v":0.17},{"g":"4900g","t":14656,"v":0.185},{"g":"4900g","t":14803,"v":0.19},{"g":"4900g","t":14950,"v":0.2},{"g":"4900g","t":15023,"v":0.2},{"g":"4900g","t":15080,"v":0.26},{"g":"4900g","t":15126,"v":0.32},{"g":"4900g","t":15180,"v":0.24},{"g":"4900g","t":15244,"v":0.18},{"g":"4900g","t":15317,"v":0.16},{"g":"4900g","t":15391,"v":0.18},{"g":"4900g","t":15538,"v":0.2},{"g":"4900g","t":15685,"v":0.22},{"g":"4900g","t":15758,"v":0.21},{"g":"4900g","t":15905,"v":0.215},{"g":"4900g","t":15980,"v":0.18},{"g":"4900g","t":16052,"v":0.16},
      {"g":"6900g","t":0,"v":0.49},{"g":"6900g","t":150,"v":0.48},{"g":"6900g","t":323,"v":0.47},{"g":"6900g","t":450,"v":0.465},{"g":"6900g","t":544,"v":0.48},{"g":"6900g","t":700,"v":0.47},{"g":"6900g","t":911,"v":0.46},{"g":"6900g","t":1050,"v":0.45},{"g":"6900g","t":1279,"v":0.43},{"g":"6900g","t":1426,"v":0.41},{"g":"6900g","t":1573,"v":0.4},{"g":"6900g","t":1720,"v":0.43},{"g":"6900g","t":1867,"v":0.45},{"g":"6900g","t":1940,"v":0.42},{"g":"6900g","t":2087,"v":0.39},{"g":"6900g","t":2200,"v":0.4},{"g":"6900g","t":2308,"v":0.4},{"g":"6900g","t":2455,"v":0.41},{"g":"6900g","t":2602,"v":0.42},{"g":"6900g","t":2749,"v":0.43},{"g":"6900g","t":2900,"v":0.44},{"g":"6900g","t":3043,"v":0.45},{"g":"6900g","t":3190,"v":0.455},{"g":"6900g","t":3337,"v":0.46},{"g":"6900g","t":3484,"v":0.46},{"g":"6900g","t":3631,"v":0.47},{"g":"6900g","t":3704,"v":0.48},{"g":"6900g","t":3778,"v":0.465},{"g":"6900g","t":3925,"v":0.45},{"g":"6900g","t":4072,"v":0.44},{"g":"6900g","t":4219,"v":0.44},{"g":"6900g","t":4366,"v":0.43},{"g":"6900g","t":4513,"v":0.42},{"g":"6900g","t":4660,"v":0.41},{"g":"6900g","t":4807,"v":0.41},{"g":"6900g","t":4954,"v":0.415},{"g":"6900g","t":5101,"v":0.42},{"g":"6900g","t":5248,"v":0.43},{"g":"6900g","t":5395,"v":0.44},{"g":"6900g","t":5468,"v":0.44},{"g":"6900g","t":5615,"v":0.41},{"g":"6900g","t":5689,"v":0.4},{"g":"6900g","t":5836,"v":0.405},{"g":"6900g","t":5983,"v":0.41},{"g":"6900g","t":6130,"v":0.41},{"g":"6900g","t":6277,"v":0.4},{"g":"6900g","t":6424,"v":0.395},{"g":"6900g","t":6571,"v":0.39},{"g":"6900g","t":6718,"v":0.385},{"g":"6900g","t":6865,"v":0.38},{"g":"6900g","t":7012,"v":0.38},{"g":"6900g","t":7159,"v":0.38},{"g":"6900g","t":7306,"v":0.37},{"g":"6900g","t":7453,"v":0.365},{"g":"6900g","t":7600,"v":0.36},{"g":"6900g","t":7747,"v":0.37},{"g":"6900g","t":7894,"v":0.38},{"g":"6900g","t":8041,"v":0.375},{"g":"6900g","t":8188,"v":0.36},{"g":"6900g","t":8335,"v":0.35},{"g":"6900g","t":8482,"v":0.345},{"g":"6900g","t":8629,"v":0.34},{"g":"6900g","t":8776,"v":0.34},{"g":"6900g","t":8923,"v":0.36},{"g":"6900g","t":9070,"v":0.355},{"g":"6900g","t":9217,"v":0.36},{"g":"6900g","t":9364,"v":0.365},{"g":"6900g","t":9511,"v":0.37},{"g":"6900g","t":9658,"v":0.36},{"g":"6900g","t":9805,"v":0.35},{"g":"6900g","t":9952,"v":0.355},{"g":"6900g","t":10099,"v":0.37},{"g":"6900g","t":10246,"v":0.36},{"g":"6900g","t":10393,"v":0.37},{"g":"6900g","t":10540,"v":0.35},{"g":"6900g","t":10687,"v":0.34},{"g":"6900g","t":10834,"v":0.33},{"g":"6900g","t":10981,"v":0.31},{"g":"6900g","t":11128,"v":0.3},{"g":"6900g","t":11275,"v":0.31},{"g":"6900g","t":11422,"v":0.32},{"g":"6900g","t":11569,"v":0.315},{"g":"6900g","t":11716,"v":0.305},{"g":"6900g","t":11863,"v":0.3},{"g":"6900g","t":12010,"v":0.29},{"g":"6900g","t":12157,"v":0.29},{"g":"6900g","t":12304,"v":0.295},{"g":"6900g","t":12451,"v":0.3},{"g":"6900g","t":12598,"v":0.305},{"g":"6900g","t":12745,"v":0.3},{"g":"6900g","t":12892,"v":0.29},{"g":"6900g","t":13039,"v":0.295},{"g":"6900g","t":13186,"v":0.31},{"g":"6900g","t":13333,"v":0.3},{"g":"6900g","t":13480,"v":0.305},{"g":"6900g","t":13553,"v":0.31},{"g":"6900g","t":13700,"v":0.29},{"g":"6900g","t":13847,"v":0.27},{"g":"6900g","t":13994,"v":0.255},{"g":"6900g","t":14141,"v":0.25},{"g":"6900g","t":14288,"v":0.245},{"g":"6900g","t":14435,"v":0.25},{"g":"6900g","t":14582,"v":0.24},{"g":"6900g","t":14729,"v":0.245},{"g":"6900g","t":14876,"v":0.26},{"g":"6900g","t":15023,"v":0.28},{"g":"6900g","t":15170,"v":0.29},{"g":"6900g","t":15317,"v":0.29},{"g":"6900g","t":15464,"v":0.285},{"g":"6900g","t":15611,"v":0.27},{"g":"6900g","t":15758,"v":0.25},{"g":"6900g","t":15905,"v":0.24},{"g":"6900g","t":16052,"v":0.245},
      {"g":"8900g","t":0,"v":0.27},{"g":"8900g","t":60,"v":0.3},{"g":"8900g","t":150,"v":0.34},{"g":"8900g","t":250,"v":0.35},{"g":"8900g","t":323,"v":0.33},{"g":"8900g","t":400,"v":0.31},{"g":"8900g","t":544,"v":0.3},{"g":"8900g","t":691,"v":0.3},{"g":"8900g","t":838,"v":0.31},{"g":"8900g","t":985,"v":0.305},{"g":"8900g","t":1132,"v":0.31},{"g":"8900g","t":1279,"v":0.315},{"g":"8900g","t":1426,"v":0.33},{"g":"8900g","t":1573,"v":0.33},{"g":"8900g","t":1720,"v":0.32},{"g":"8900g","t":1867,"v":0.31},{"g":"8900g","t":2014,"v":0.3},{"g":"8900g","t":2161,"v":0.32},{"g":"8900g","t":2308,"v":0.31},{"g":"8900g","t":2455,"v":0.3},{"g":"8900g","t":2602,"v":0.33},{"g":"8900g","t":2749,"v":0.35},{"g":"8900g","t":2896,"v":0.345},{"g":"8900g","t":3043,"v":0.335},{"g":"8900g","t":3190,"v":0.34},{"g":"8900g","t":3337,"v":0.33},{"g":"8900g","t":3484,"v":0.325},{"g":"8900g","t":3631,"v":0.32},{"g":"8900g","t":3778,"v":0.315},{"g":"8900g","t":3925,"v":0.32},{"g":"8900g","t":4072,"v":0.31},{"g":"8900g","t":4219,"v":0.3},{"g":"8900g","t":4366,"v":0.31},{"g":"8900g","t":4513,"v":0.33},{"g":"8900g","t":4660,"v":0.36},{"g":"8900g","t":4807,"v":0.38},{"g":"8900g","t":4954,"v":0.41},{"g":"8900g","t":5027,"v":0.4},{"g":"8900g","t":5101,"v":0.37},{"g":"8900g","t":5174,"v":0.35},{"g":"8900g","t":5248,"v":0.36},{"g":"8900g","t":5395,"v":0.39},{"g":"8900g","t":5542,"v":0.41},{"g":"8900g","t":5615,"v":0.38},{"g":"8900g","t":5762,"v":0.35},{"g":"8900g","t":5909,"v":0.33},{"g":"8900g","t":6056,"v":0.32},{"g":"8900g","t":6203,"v":0.31},{"g":"8900g","t":6350,"v":0.33},{"g":"8900g","t":6497,"v":0.36},{"g":"8900g","t":6644,"v":0.38},{"g":"8900g","t":6718,"v":0.4},{"g":"8900g","t":6791,"v":0.38},{"g":"8900g","t":6938,"v":0.35},{"g":"8900g","t":7085,"v":0.36},{"g":"8900g","t":7232,"v":0.38},{"g":"8900g","t":7379,"v":0.39},{"g":"8900g","t":7453,"v":0.37},{"g":"8900g","t":7600,"v":0.34},{"g":"8900g","t":7747,"v":0.33},{"g":"8900g","t":7894,"v":0.37},{"g":"8900g","t":8041,"v":0.39},{"g":"8900g","t":8188,"v":0.41},{"g":"8900g","t":8335,"v":0.38},{"g":"8900g","t":8482,"v":0.35},{"g":"8900g","t":8629,"v":0.37},{"g":"8900g","t":8776,"v":0.41},{"g":"8900g","t":8923,"v":0.4},{"g":"8900g","t":9070,"v":0.36},{"g":"8900g","t":9217,"v":0.34},{"g":"8900g","t":9364,"v":0.36},{"g":"8900g","t":9511,"v":0.38},{"g":"8900g","t":9658,"v":0.37},{"g":"8900g","t":9805,"v":0.35},{"g":"8900g","t":9952,"v":0.36},{"g":"8900g","t":10099,"v":0.4},{"g":"8900g","t":10246,"v":0.42},{"g":"8900g","t":10393,"v":0.39},{"g":"8900g","t":10540,"v":0.36},{"g":"8900g","t":10687,"v":0.38},{"g":"8900g","t":10834,"v":0.43},{"g":"8900g","t":10981,"v":0.4},{"g":"8900g","t":11128,"v":0.36},{"g":"8900g","t":11275,"v":0.35},{"g":"8900g","t":11422,"v":0.39},{"g":"8900g","t":11569,"v":0.42},{"g":"8900g","t":11716,"v":0.41},{"g":"8900g","t":11863,"v":0.36},{"g":"8900g","t":12010,"v":0.35},{"g":"8900g","t":12157,"v":0.4},{"g":"8900g","t":12304,"v":0.43},{"g":"8900g","t":12451,"v":0.41},{"g":"8900g","t":12598,"v":0.36},{"g":"8900g","t":12745,"v":0.35},{"g":"8900g","t":12892,"v":0.4},{"g":"8900g","t":13039,"v":0.43},{"g":"8900g","t":13186,"v":0.4},{"g":"8900g","t":13333,"v":0.36},{"g":"8900g","t":13480,"v":0.35},{"g":"8900g","t":13627,"v":0.4},{"g":"8900g","t":13774,"v":0.43},{"g":"8900g","t":13921,"v":0.41},{"g":"8900g","t":14068,"v":0.36},{"g":"8900g","t":14215,"v":0.35},{"g":"8900g","t":14362,"v":0.39},{"g":"8900g","t":14509,"v":0.42},{"g":"8900g","t":14656,"v":0.4},{"g":"8900g","t":14803,"v":0.36},{"g":"8900g","t":14950,"v":0.355},{"g":"8900g","t":15097,"v":0.4},{"g":"8900g","t":15244,"v":0.42},{"g":"8900g","t":15391,"v":0.39},{"g":"8900g","t":15538,"v":0.36},{"g":"8900g","t":15611,"v":0.35},{"g":"8900g","t":15758,"v":0.38},{"g":"8900g","t":15905,"v":0.42},{"g":"8900g","t":16052,"v":0.47},
      {"g":"10900g","t":0,"v":0.35},{"g":"10900g","t":150,"v":0.345},{"g":"10900g","t":323,"v":0.34},{"g":"10900g","t":544,"v":0.335},{"g":"10900g","t":764,"v":0.33},{"g":"10900g","t":985,"v":0.33},{"g":"10900g","t":1132,"v":0.325},{"g":"10900g","t":1279,"v":0.33},{"g":"10900g","t":1426,"v":0.35},{"g":"10900g","t":1573,"v":0.36},{"g":"10900g","t":1720,"v":0.37},{"g":"10900g","t":1867,"v":0.38},{"g":"10900g","t":2014,"v":0.39},{"g":"10900g","t":2161,"v":0.385},{"g":"10900g","t":2308,"v":0.4},{"g":"10900g","t":2455,"v":0.41},{"g":"10900g","t":2602,"v":0.415},{"g":"10900g","t":2749,"v":0.43},{"g":"10900g","t":2896,"v":0.42},{"g":"10900g","t":3043,"v":0.425},{"g":"10900g","t":3190,"v":0.42},{"g":"10900g","t":3337,"v":0.415},{"g":"10900g","t":3484,"v":0.425},{"g":"10900g","t":3631,"v":0.415},{"g":"10900g","t":3778,"v":0.42},{"g":"10900g","t":3925,"v":0.41},{"g":"10900g","t":4072,"v":0.415},{"g":"10900g","t":4219,"v":0.41},{"g":"10900g","t":4366,"v":0.42},{"g":"10900g","t":4513,"v":0.41},{"g":"10900g","t":4660,"v":0.42},{"g":"10900g","t":4807,"v":0.41},{"g":"10900g","t":4954,"v":0.415},{"g":"10900g","t":5101,"v":0.405},{"g":"10900g","t":5248,"v":0.41},{"g":"10900g","t":5395,"v":0.4},{"g":"10900g","t":5542,"v":0.405},{"g":"10900g","t":5689,"v":0.41},{"g":"10900g","t":5836,"v":0.4},{"g":"10900g","t":5983,"v":0.41},{"g":"10900g","t":6130,"v":0.405},{"g":"10900g","t":6277,"v":0.4},{"g":"10900g","t":6424,"v":0.41},{"g":"10900g","t":6571,"v":0.4},{"g":"10900g","t":6718,"v":0.405},{"g":"10900g","t":6865,"v":0.4},{"g":"10900g","t":7012,"v":0.395},{"g":"10900g","t":7159,"v":0.4},{"g":"10900g","t":7306,"v":0.395},{"g":"10900g","t":7453,"v":0.4},{"g":"10900g","t":7600,"v":0.39},{"g":"10900g","t":7747,"v":0.395},{"g":"10900g","t":7894,"v":0.385},{"g":"10900g","t":8041,"v":0.39},{"g":"10900g","t":8188,"v":0.38},{"g":"10900g","t":8335,"v":0.385},{"g":"10900g","t":8482,"v":0.38},{"g":"10900g","t":8629,"v":0.375},{"g":"10900g","t":8776,"v":0.38},{"g":"10900g","t":8923,"v":0.37},{"g":"10900g","t":9070,"v":0.38},{"g":"10900g","t":9217,"v":0.375},{"g":"10900g","t":9364,"v":0.37},{"g":"10900g","t":9511,"v":0.38},{"g":"10900g","t":9658,"v":0.375},{"g":"10900g","t":9805,"v":0.38},{"g":"10900g","t":9952,"v":0.385},{"g":"10900g","t":10099,"v":0.38},{"g":"10900g","t":10246,"v":0.39},{"g":"10900g","t":10393,"v":0.385},{"g":"10900g","t":10540,"v":0.39},{"g":"10900g","t":10687,"v":0.395},{"g":"10900g","t":10834,"v":0.39},{"g":"10900g","t":10981,"v":0.4},{"g":"10900g","t":11128,"v":0.395},{"g":"10900g","t":11275,"v":0.4},{"g":"10900g","t":11422,"v":0.41},{"g":"10900g","t":11569,"v":0.4},{"g":"10900g","t":11716,"v":0.405},{"g":"10900g","t":11863,"v":0.41},{"g":"10900g","t":12010,"v":0.4},{"g":"10900g","t":12157,"v":0.405},{"g":"10900g","t":12304,"v":0.41},{"g":"10900g","t":12451,"v":0.4},{"g":"10900g","t":12598,"v":0.41},{"g":"10900g","t":12745,"v":0.405},{"g":"10900g","t":12892,"v":0.4},{"g":"10900g","t":13039,"v":0.41},{"g":"10900g","t":13186,"v":0.4},{"g":"10900g","t":13333,"v":0.405},{"g":"10900g","t":13480,"v":0.4},{"g":"10900g","t":13627,"v":0.41},{"g":"10900g","t":13774,"v":0.4},{"g":"10900g","t":13921,"v":0.405},{"g":"10900g","t":14068,"v":0.41},{"g":"10900g","t":14215,"v":0.4},{"g":"10900g","t":14362,"v":0.415},{"g":"10900g","t":14509,"v":0.42},{"g":"10900g","t":14656,"v":0.41},{"g":"10900g","t":14803,"v":0.405},{"g":"10900g","t":14950,"v":0.41},{"g":"10900g","t":15097,"v":0.405},{"g":"10900g","t":15244,"v":0.415},{"g":"10900g","t":15391,"v":0.41},{"g":"10900g","t":15538,"v":0.415},{"g":"10900g","t":15685,"v":0.42},{"g":"10900g","t":15832,"v":0.415},{"g":"10900g","t":15979,"v":0.42},{"g":"10900g","t":16052,"v":0.42}
    ]
  },
  "vconcat": [
    {
      "width": 866,
      "height": 554,
      "layer": [
        {
          "data": {"name": "ticks"},
          "mark": {"type": "rule", "color": "#e6e6e6", "strokeWidth": 1},
          "encoding": {"x": {"field": "t", "type": "quantitative"}, "y": {"datum": 0, "type": "quantitative"}, "y2": {"datum": 0.5}}
        },
        {
          "data": {"name": "a"},
          "mark": {"type": "line", "strokeWidth": 2.5, "clip": false},
          "encoding": {
            "x": {"field": "t", "type": "quantitative", "scale": {"domain": [0, 16400], "range": [114, 736], "nice": false, "zero": false},
              "axis": {"values": [2500, 5000, 7500, 10000, 12500, 15000], "format": "d", "offset": -190, "labelPadding": 7, "title": "Time In Seconds", "titleX": 443, "titleY": 83}},
            "y": {"field": "v", "type": "quantitative", "scale": {"domain": [0, 0.5], "range": [364, 49], "nice": false, "zero": false},
              "axis": {"values": [0, 0.1, 0.2, 0.3, 0.4, 0.5], "format": ".2f", "offset": -114, "labelPadding": 7, "title": "Coefficient Of Friction", "titleX": -92, "titleY": 212}},
            "color": {"field": "g", "type": "nominal", "scale": {"domain": ["2920g", "4900g", "6900g", "8900g", "10900g"], "range": ["#2979f2", "#f21818", "#fdb515", "#259b2f", "#ff5620"]},
              "legend": {"orient": "none", "legendX": 759, "legendY": 51, "title": null}}
          }
        },
        {
          "data": {"values": [
            {"g": "8900g", "t": 11786, "v": 0.4206, "t2": 9887, "v2": 0.3683},
            {"g": "10900g", "t": 15398, "v": 0.4206, "t2": 15003, "v2": 0.3571},
            {"g": "6900g", "t": 16980, "v": 0.1746, "t2": 15925, "v2": 0.2127},
            {"g": "4900g", "t": 17059, "v": 0.0825, "t2": 16373, "v2": 0.1492},
            {"g": "2920g", "t": 17059, "v": 0.0079, "t2": 15767, "v2": 0.0857}
          ]},
          "layer": [
            {"mark": {"type": "rule", "color": "#111", "strokeWidth": 2.2, "clip": false},
             "encoding": {"x": {"field": "t", "type": "quantitative"}, "y": {"field": "v", "type": "quantitative"}, "x2": {"field": "t2"}, "y2": {"field": "v2"}}},
            {"mark": {"type": "point", "shape": "M0,0L0.55,1.3L-0.55,1.3Z", "size": 464, "filled": true, "fill": "#111", "strokeWidth": 0, "opacity": 1, "clip": false},
             "encoding": {"x": {"field": "t2", "type": "quantitative"}, "y": {"field": "v2", "type": "quantitative"},
               "angle": {"condition": [{"test": "datum.g === '8900g'", "value": 245}, {"test": "datum.g === '10900g'", "value": 200}, {"test": "datum.g === '6900g'", "value": 301}, {"test": "datum.g === '4900g'", "value": 328}], "value": 315}}}
          ]
        },
        {
          "data": {"values": [{"g": "8900g", "t": 11786, "v": 0.4452}, {"g": "10900g", "t": 15385, "v": 0.4452}]},
          "mark": {"type": "point", "shape": "M-1,-0.31L1,-0.31L1,0.31L-1,0.31Z", "size": 10000, "filled": true, "fill": "white", "stroke": "#111", "strokeWidth": 2.2, "opacity": 1, "clip": false},
          "encoding": {"x": {"field": "t", "type": "quantitative"}, "y": {"field": "v", "type": "quantitative"}}
        },
        {
          "data": {"values": [{"g": "6900g", "t": 18325, "v": 0.1635}, {"g": "4900g", "t": 18325, "v": 0.0944}, {"g": "2920g", "t": 18325, "v": 0.0135}]},
          "mark": {"type": "point", "shape": "M-1,-0.3077L1,-0.3077L1,0.3077L-1,0.3077Z", "size": 10816, "filled": true, "fill": "white", "stroke": "#111", "strokeWidth": 2.2, "opacity": 1, "clip": false},
          "encoding": {"x": {"field": "t", "type": "quantitative"}, "y": {"field": "v", "type": "quantitative"}}
        },
        {
          "data": {"values": [{"g": "8900g", "t": 11786, "v": 0.4452}, {"g": "10900g", "t": 15385, "v": 0.4452}, {"g": "6900g", "t": 18325, "v": 0.1635}, {"g": "4900g", "t": 18325, "v": 0.0944}, {"g": "2920g", "t": 18325, "v": 0.0135}]},
          "mark": {"type": "text", "font": "Liberation Serif", "fontSize": 27, "color": "#111", "align": "center", "baseline": "middle", "clip": false},
          "encoding": {"x": {"field": "t", "type": "quantitative"}, "y": {"field": "v", "type": "quantitative"}, "text": {"field": "g"}}
        },
        {
          "data": {"values": [{"g": "Material A", "t": 16522, "v": -0.2603}]},
          "layer": [
            {"mark": {"type": "point", "shape": "M-1,-0.2072L1,-0.2072L1,0.2072L-1,0.2072Z", "size": 63001, "filled": true, "fill": "white", "stroke": "#555", "strokeWidth": 1.6, "opacity": 1, "clip": false},
             "encoding": {"x": {"field": "t", "type": "quantitative"}, "y": {"field": "v", "type": "quantitative"}}},
            {"mark": {"type": "text", "font": "Liberation Serif", "fontSize": 30, "color": "#111", "align": "center", "baseline": "middle", "dx": -22, "dy": -2, "clip": false},
             "encoding": {"x": {"field": "t", "type": "quantitative"}, "y": {"field": "v", "type": "quantitative"}, "text": {"field": "g"}}}
          ]
        }
      ]
    },
    {
      "width": 866,
      "height": 557,
      "layer": [
        {
          "data": {"name": "ticks"},
          "mark": {"type": "rule", "color": "#e6e6e6", "strokeWidth": 1},
          "encoding": {"x": {"field": "t", "type": "quantitative"}, "y": {"datum": 0, "type": "quantitative"}, "y2": {"datum": 0.5}}
        },
        {
          "data": {"name": "b"},
          "mark": {"type": "line", "strokeWidth": 2.5, "clip": false},
          "encoding": {
            "x": {"field": "t", "type": "quantitative", "scale": {"domain": [0, 16200], "range": [120.4, 740], "nice": false, "zero": false},
              "axis": {"values": [2500, 5000, 7500, 10000, 12500, 15000], "format": "d", "offset": -198, "labelPadding": 11, "title": "Time In Seconds", "titleX": 442, "titleY": 102}},
            "y": {"field": "v", "type": "quantitative", "scale": {"domain": [0, 0.5], "range": [359, 101], "nice": false, "zero": false},
              "axis": {"values": [0, 0.1, 0.2, 0.3, 0.4, 0.5], "format": ".2f", "offset": -120.4, "labelPadding": 12, "title": "Coefficient Of Friction", "titleX": -98, "titleY": 238}},
            "color": {"field": "g", "type": "nominal", "scale": {"domain": ["2920g", "4900g", "6900g", "8900g", "10900g"], "range": ["#2979f2", "#f21818", "#fdb515", "#259b2f", "#ff5620"]},
              "legend": {"orient": "none", "legendX": 760, "legendY": 98, "title": null}}
          }
        },
        {
          "data": {"values": [
            {"g": "8900g", "t": 8304, "v": 0.4264, "t2": 10733, "v2": 0.2694},
            {"g": "10900g", "t": 10943, "v": 0.4554, "t2": 11963, "v2": 0.3547},
            {"g": "6900g", "t": 16540, "v": 0.0988, "t2": 15782, "v2": 0.2597},
            {"g": "4900g", "t": 16540, "v": 0.0058, "t2": 15469, "v2": 0.1996},
            {"g": "2920g", "t": 16540, "v": -0.0911, "t2": 15024, "v2": 0.124}
          ]},
          "layer": [
            {"mark": {"type": "rule", "color": "#111", "strokeWidth": 2.2, "clip": false},
             "encoding": {"x": {"field": "t", "type": "quantitative"}, "y": {"field": "v", "type": "quantitative"}, "x2": {"field": "t2"}, "y2": {"field": "v2"}}},
            {"mark": {"type": "point", "shape": "M0,0L0.55,1.3L-0.55,1.3Z", "size": 464, "filled": true, "fill": "#111", "strokeWidth": 0, "opacity": 1, "clip": false},
             "encoding": {"x": {"field": "t2", "type": "quantitative"}, "y": {"field": "v2", "type": "quantitative"},
               "angle": {"condition": [{"test": "datum.g === '8900g'", "value": 131}, {"test": "datum.g === '10900g'", "value": 143}, {"test": "datum.g === '6900g'", "value": 342}, {"test": "datum.g === '4900g'", "value": 338}], "value": 333}}}
          ]
        },
        {
          "data": {"values": [{"g": "8900g", "t": 8147, "v": 0.4632}, {"g": "10900g", "t": 10943, "v": 0.4913}]},
          "mark": {"type": "point", "shape": "M-1,-0.332L1,-0.332L1,0.332L-1,0.332Z", "size": 12769, "filled": true, "fill": "white", "stroke": "#111", "strokeWidth": 2.2, "opacity": 1, "clip": false},
          "encoding": {"x": {"field": "t", "type": "quantitative"}, "y": {"field": "v", "type": "quantitative"}}
        },
        {
          "data": {"values": [{"g": "6900g", "t": 17834, "v": 0.0988}, {"g": "4900g", "t": 17834, "v": 0.0019}, {"g": "2920g", "t": 17834, "v": -0.0959}]},
          "mark": {"type": "point", "shape": "M-1,-0.354L1,-0.354L1,0.354L-1,0.354Z", "size": 9801, "filled": true, "fill": "white", "stroke": "#111", "strokeWidth": 2.2, "opacity": 1, "clip": false},
          "encoding": {"x": {"field": "t", "type": "quantitative"}, "y": {"field": "v", "type": "quantitative"}}
        },
        {
          "data": {"values": [{"g": "8900g", "t": 8147, "v": 0.4632}, {"g": "10900g", "t": 10943, "v": 0.4913}, {"g": "6900g", "t": 17834, "v": 0.0988}, {"g": "4900g", "t": 17834, "v": 0.0019}, {"g": "2920g", "t": 17834, "v": -0.0959}]},
          "mark": {"type": "text", "font": "Liberation Serif", "fontSize": 27, "color": "#111", "align": "center", "baseline": "middle", "clip": false},
          "encoding": {"x": {"field": "t", "type": "quantitative"}, "y": {"field": "v", "type": "quantitative"}, "text": {"field": "g"}}
        },
        {
          "data": {"values": [{"g": "Material B", "t": 16164, "v": -0.3333}]},
          "layer": [
            {"mark": {"type": "point", "shape": "M-1,-0.204L1,-0.204L1,0.204L-1,0.204Z", "size": 65025, "filled": true, "fill": "white", "stroke": "#555", "strokeWidth": 1.6, "opacity": 1, "clip": false},
             "encoding": {"x": {"field": "t", "type": "quantitative"}, "y": {"field": "v", "type": "quantitative"}}},
            {"mark": {"type": "text", "font": "Liberation Serif", "fontSize": 30, "color": "#111", "align": "center", "baseline": "middle", "dx": -19, "dy": -2, "clip": false},
             "encoding": {"x": {"field": "t", "type": "quantitative"}, "y": {"field": "v", "type": "quantitative"}, "text": {"field": "g"}}}
          ]
        }
      ]
    },
    {
      "width": 866,
      "height": 572,
      "layer": [
        {
          "data": {"name": "ticks"},
          "mark": {"type": "rule", "color": "#e6e6e6", "strokeWidth": 1},
          "encoding": {"x": {"field": "t", "type": "quantitative"}, "y": {"datum": 0, "type": "quantitative"}, "y2": {"datum": 0.6}}
        },
        {
          "data": {"name": "c"},
          "mark": {"type": "line", "strokeWidth": 2.5, "clip": false},
          "encoding": {
            "x": {"field": "t", "type": "quantitative", "scale": {"domain": [0, 16050], "range": [106, 715], "nice": false, "zero": false},
              "axis": {"values": [2500, 5000, 7500, 10000, 12500, 15000], "format": "d", "offset": -181, "labelPadding": 9, "title": "Time In Seconds", "titleX": 443, "titleY": 103}},
            "y": {"field": "v", "type": "quantitative", "scale": {"domain": [0, 0.6], "range": [391, 102], "nice": false, "zero": false},
              "axis": {"values": [0, 0.2, 0.4, 0.6], "format": ".2f", "offset": -106, "labelPadding": 6, "title": "Coefficient Of Friction", "titleX": -84, "titleY": 261}},
            "color": {"field": "g", "type": "nominal", "scale": {"domain": ["2920g", "4900g", "6900g", "8900g", "10900g"], "range": ["#2979f2", "#f21818", "#fdb515", "#259b2f", "#ff5620"]},
              "legend": {"orient": "none", "legendX": 734, "legendY": 103, "title": null}}
          }
        },
        {
          "data": {"values": [
            {"g": "8900g", "t": 9356, "v": 0.5086, "t2": 10542, "v2": 0.4048},
            {"g": "10900g", "t": 14073, "v": 0.5086, "t2": 15128, "v2": 0.4048},
            {"g": "6900g", "t": 16873, "v": 0.1516, "t2": 16129, "v2": 0.2429},
            {"g": "4900g", "t": 16873, "v": 0.0519, "t2": 15971, "v2": 0.1661},
            {"g": "2920g", "t": 16873, "v": -0.0561, "t2": 15971, "v2": 0.0581}
          ]},
          "layer": [
            {"mark": {"type": "rule", "color": "#111", "strokeWidth": 2.2, "clip": false},
             "encoding": {"x": {"field": "t", "type": "quantitative"}, "y": {"field": "v", "type": "quantitative"}, "x2": {"field": "t2"}, "y2": {"field": "v2"}}},
            {"mark": {"type": "point", "shape": "M0,0L0.55,1.3L-0.55,1.3Z", "size": 464, "filled": true, "fill": "#111", "strokeWidth": 0, "opacity": 1, "clip": false},
             "encoding": {"x": {"field": "t2", "type": "quantitative"}, "y": {"field": "v2", "type": "quantitative"},
               "angle": {"condition": [{"test": "datum.g === '8900g'", "value": 138}, {"test": "datum.g === '10900g'", "value": 138}], "value": 327}}}
          ]
        },
        {
          "data": {"values": [{"g": "8900g", "t": 9290, "v": 0.5419}, {"g": "10900g", "t": 14087, "v": 0.5419}, {"g": "6900g", "t": 18198, "v": 0.1391}, {"g": "4900g", "t": 18198, "v": 0.0467}, {"g": "2920g", "t": 18198, "v": -0.0612}]},
          "layer": [
            {"mark": {"type": "point", "shape": "M-1,-0.323L1,-0.323L1,0.323L-1,0.323Z", "size": 9801, "filled": true, "fill": "white", "stroke": "#111", "strokeWidth": 2.2, "opacity": 1, "clip": false},
             "encoding": {"x": {"field": "t", "type": "quantitative"}, "y": {"field": "v", "type": "quantitative"}}},
            {"mark": {"type": "text", "font": "Liberation Serif", "fontSize": 27, "color": "#111", "align": "center", "baseline": "middle", "clip": false},
             "encoding": {"x": {"field": "t", "type": "quantitative"}, "y": {"field": "v", "type": "quantitative"}, "text": {"field": "g"}}}
          ]
        },
        {
          "data": {"values": [{"g": "Material C", "t": 16640, "v": -0.3257}]},
          "layer": [
            {"mark": {"type": "point", "shape": "M-1,-0.1868L1,-0.1868L1,0.1868L-1,0.1868Z", "size": 66049, "filled": true, "fill": "white", "stroke": "#555", "strokeWidth": 1.6, "opacity": 1, "clip": false},
             "encoding": {"x": {"field": "t", "type": "quantitative"}, "y": {"field": "v", "type": "quantitative"}}},
            {"mark": {"type": "text", "font": "Liberation Serif", "fontSize": 30, "color": "#111", "align": "center", "baseline": "middle", "dx": -18, "dy": 6, "clip": false},
             "encoding": {"x": {"field": "t", "type": "quantitative"}, "y": {"field": "v", "type": "quantitative"}, "text": {"field": "g"}}}
          ]
        }
      ]
    }
  ]
}
